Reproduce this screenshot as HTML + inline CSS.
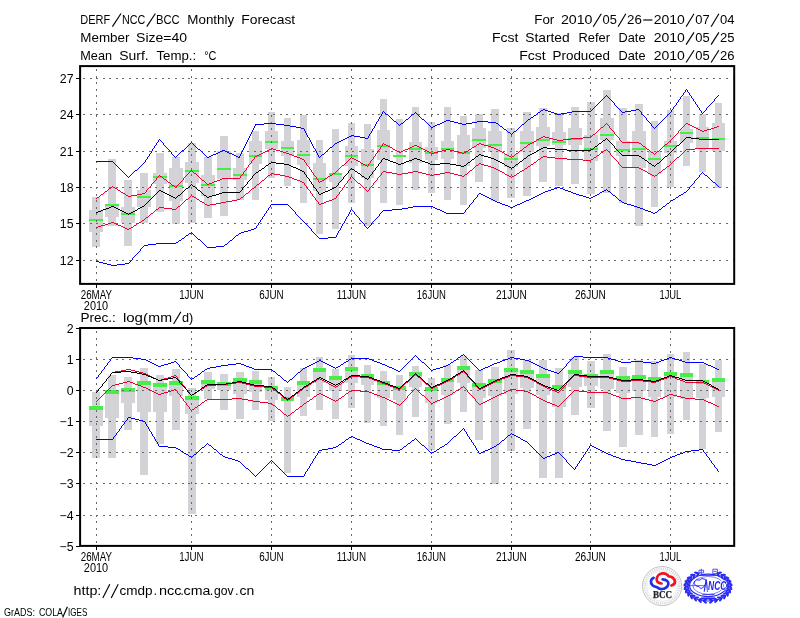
<!DOCTYPE html><html><head><meta charset="utf-8"><title>DERF/NCC/BCC Monthly Forecast</title>
<style>html,body{margin:0;padding:0;background:#fff}svg{display:block;will-change:transform}text{font-family:"Liberation Sans",sans-serif;fill:#000}</style></head><body>
<svg width="800" height="618" viewBox="0 0 800 618">
<rect width="800" height="618" fill="#fff"/>
<g fill="#d3d3d7" shape-rendering="crispEdges">
<rect x="92" y="197.0" width="8" height="49.8"/>
<rect x="89" y="210.0" width="14" height="22.0"/>
<rect x="108" y="159.0" width="8" height="66.5"/>
<rect x="105" y="204.0" width="14" height="13.0"/>
<rect x="124" y="180.2" width="8" height="65.3"/>
<rect x="121" y="207.3" width="14" height="16.1"/>
<rect x="140" y="173.2" width="8" height="50.2"/>
<rect x="137" y="190.2" width="14" height="17.1"/>
<rect x="156" y="153.1" width="8" height="59.2"/>
<rect x="153" y="173.2" width="14" height="10.6"/>
<rect x="172" y="157.1" width="8" height="67.3"/>
<rect x="169" y="168.2" width="14" height="33.1"/>
<rect x="188" y="143.1" width="8" height="79.7"/>
<rect x="185" y="162.1" width="14" height="21.1"/>
<rect x="204" y="157.1" width="8" height="60.7"/>
<rect x="201" y="175.2" width="14" height="21.1"/>
<rect x="220" y="136.0" width="8" height="79.7"/>
<rect x="217" y="151.1" width="14" height="28.1"/>
<rect x="236" y="152.6" width="8" height="47.4"/>
<rect x="233" y="168.3" width="14" height="12.0"/>
<rect x="252" y="131.1" width="7" height="69.2"/>
<rect x="249" y="141.2" width="13" height="23.1"/>
<rect x="268" y="112.4" width="7" height="65.9"/>
<rect x="265" y="131.1" width="13" height="18.1"/>
<rect x="284" y="117.5" width="7" height="68.8"/>
<rect x="281" y="141.2" width="13" height="15.0"/>
<rect x="300" y="115.1" width="7" height="88.2"/>
<rect x="297" y="140.2" width="13" height="25.1"/>
<rect x="316" y="140.2" width="7" height="94.1"/>
<rect x="313" y="163.3" width="13" height="28.1"/>
<rect x="332" y="129.1" width="7" height="99.6"/>
<rect x="329" y="173.3" width="13" height="9.0"/>
<rect x="348" y="123.1" width="7" height="79.4"/>
<rect x="345" y="146.2" width="13" height="20.1"/>
<rect x="364" y="124.1" width="7" height="102.2"/>
<rect x="361" y="149.2" width="13" height="29.1"/>
<rect x="380" y="99.0" width="7" height="104.4"/>
<rect x="377" y="130.1" width="13" height="30.1"/>
<rect x="396" y="119.1" width="7" height="85.4"/>
<rect x="393" y="155.0" width="13" height="2.0"/>
<rect x="412" y="107.1" width="7" height="82.7"/>
<rect x="409" y="142.2" width="13" height="21.1"/>
<rect x="428" y="122.1" width="7" height="70.7"/>
<rect x="425" y="147.2" width="13" height="13.1"/>
<rect x="444" y="107.1" width="7" height="92.9"/>
<rect x="441" y="141.2" width="13" height="18.1"/>
<rect x="460" y="116.1" width="7" height="88.8"/>
<rect x="457" y="135.2" width="13" height="31.1"/>
<rect x="475" y="114.1" width="8" height="67.7"/>
<rect x="472" y="128.2" width="14" height="20.0"/>
<rect x="491" y="109.1" width="8" height="92.3"/>
<rect x="488" y="131.2" width="14" height="21.0"/>
<rect x="507" y="128.2" width="8" height="70.2"/>
<rect x="504" y="154.3" width="14" height="13.0"/>
<rect x="523" y="112.1" width="8" height="83.7"/>
<rect x="520" y="131.2" width="14" height="21.0"/>
<rect x="539" y="108.2" width="8" height="73.9"/>
<rect x="536" y="127.2" width="14" height="18.4"/>
<rect x="555" y="113.0" width="8" height="73.1"/>
<rect x="552" y="132.4" width="14" height="12.7"/>
<rect x="571" y="106.9" width="8" height="77.0"/>
<rect x="568" y="127.5" width="14" height="17.7"/>
<rect x="587" y="101.6" width="8" height="92.4"/>
<rect x="584" y="135.1" width="14" height="25.9"/>
<rect x="603" y="90.3" width="8" height="102.3"/>
<rect x="600" y="118.0" width="14" height="21.9"/>
<rect x="619" y="107.7" width="8" height="95.5"/>
<rect x="616" y="140.7" width="14" height="15.0"/>
<rect x="635" y="104.3" width="8" height="121.3"/>
<rect x="632" y="130.6" width="14" height="37.0"/>
<rect x="651" y="121.4" width="7" height="85.2"/>
<rect x="648" y="151.2" width="13" height="23.0"/>
<rect x="667" y="110.3" width="7" height="76.3"/>
<rect x="664" y="140.7" width="13" height="12.4"/>
<rect x="683" y="95.8" width="7" height="69.9"/>
<rect x="680" y="128.5" width="13" height="14.0"/>
<rect x="699" y="113.5" width="7" height="58.5"/>
<rect x="696" y="127.2" width="13" height="20.8"/>
<rect x="715" y="102.9" width="7" height="85.0"/>
<rect x="712" y="122.7" width="13" height="28.3"/>
</g>
<g fill="#48ee48" shape-rendering="crispEdges">
<rect x="89" y="219" width="14" height="2"/>
<rect x="105" y="204" width="14" height="2"/>
<rect x="121" y="213" width="14" height="2"/>
<rect x="137" y="196" width="14" height="2"/>
<rect x="153" y="176" width="14" height="2"/>
<rect x="169" y="185" width="14" height="2"/>
<rect x="185" y="170" width="14" height="2"/>
<rect x="201" y="184" width="14" height="2"/>
<rect x="217" y="168" width="14" height="2"/>
<rect x="233" y="174" width="14" height="2"/>
<rect x="249" y="155" width="13" height="2"/>
<rect x="265" y="141" width="13" height="2"/>
<rect x="281" y="147" width="13" height="2"/>
<rect x="297" y="154" width="13" height="2"/>
<rect x="313" y="178" width="13" height="2"/>
<rect x="329" y="173" width="13" height="2"/>
<rect x="345" y="155" width="13" height="2"/>
<rect x="361" y="164" width="13" height="2"/>
<rect x="377" y="145" width="13" height="2"/>
<rect x="393" y="155" width="13" height="2"/>
<rect x="409" y="148" width="13" height="2"/>
<rect x="425" y="152" width="13" height="2"/>
<rect x="441" y="148" width="13" height="2"/>
<rect x="457" y="152" width="13" height="2"/>
<rect x="472" y="139" width="14" height="2"/>
<rect x="488" y="144" width="14" height="2"/>
<rect x="504" y="158" width="14" height="2"/>
<rect x="520" y="142" width="14" height="2"/>
<rect x="536" y="139" width="14" height="2"/>
<rect x="552" y="141" width="14" height="2"/>
<rect x="568" y="138" width="14" height="2"/>
<rect x="584" y="148" width="14" height="2"/>
<rect x="600" y="134" width="14" height="2"/>
<rect x="616" y="149" width="14" height="2"/>
<rect x="632" y="148" width="14" height="2"/>
<rect x="648" y="158" width="13" height="2"/>
<rect x="664" y="145" width="13" height="2"/>
<rect x="680" y="132" width="13" height="2"/>
<rect x="696" y="137" width="13" height="2"/>
<rect x="712" y="138" width="13" height="2"/>
</g>
<g stroke="#686868" stroke-width="1" stroke-dasharray="2 4.56" fill="none" shape-rendering="crispEdges">
<line x1="83.1" y1="260.5" x2="734.2" y2="260.5"/>
<line x1="83.1" y1="223.5" x2="734.2" y2="223.5"/>
<line x1="83.1" y1="187.5" x2="734.2" y2="187.5"/>
<line x1="83.1" y1="151.5" x2="734.2" y2="151.5"/>
<line x1="83.1" y1="114.5" x2="734.2" y2="114.5"/>
<line x1="83.1" y1="78.5" x2="734.2" y2="78.5"/>
<line x1="96.5" y1="69.1" x2="96.5" y2="283.9"/>
<line x1="191.5" y1="69.1" x2="191.5" y2="283.9"/>
<line x1="271.5" y1="69.1" x2="271.5" y2="283.9"/>
<line x1="351.5" y1="69.1" x2="351.5" y2="283.9"/>
<line x1="431.5" y1="69.1" x2="431.5" y2="283.9"/>
<line x1="511.5" y1="69.1" x2="511.5" y2="283.9"/>
<line x1="590.5" y1="69.1" x2="590.5" y2="283.9"/>
<line x1="670.5" y1="69.1" x2="670.5" y2="283.9"/>
</g>
<path d="M686 89.5h1M685 90.5h1M687 90.5h1M685 91.5h1M687 91.5h1M684 92.5h1M688 92.5h1M683 93.5h1M689 93.5h1M683 94.5h1M689 94.5h1M606 95.5h1M682 95.5h1M690 95.5h1M718 95.5h1M605 96.5h1M607 96.5h1M681 96.5h1M691 96.5h1M717 96.5h1M604 97.5h1M608 97.5h1M680 97.5h1M691 97.5h1M716 97.5h1M603 98.5h1M609 98.5h1M680 98.5h1M692 98.5h1M715 98.5h1M602 99.5h1M610 99.5h1M679 99.5h1M693 99.5h1M714 99.5h1M601 100.5h1M611 100.5h1M678 100.5h1M693 100.5h1M714 100.5h1M600 101.5h1M612 101.5h1M678 101.5h1M694 101.5h1M713 101.5h1M599 102.5h1M613 102.5h1M677 102.5h1M695 102.5h1M712 102.5h1M598 103.5h1M614 103.5h1M676 103.5h1M695 103.5h1M711 103.5h1M597 104.5h1M614 104.5h1M676 104.5h1M696 104.5h1M710 104.5h1M596 105.5h1M615 105.5h1M675 105.5h1M697 105.5h1M709 105.5h1M595 106.5h1M616 106.5h1M674 106.5h1M697 106.5h1M708 106.5h1M594 107.5h1M617 107.5h1M673 107.5h1M698 107.5h1M707 107.5h1M593 108.5h1M618 108.5h1M673 108.5h1M699 108.5h1M706 108.5h1M543 109.5h2M592 109.5h1M619 109.5h1M636 109.5h3M672 109.5h1M699 109.5h1M706 109.5h1M541 110.5h2M545 110.5h3M591 110.5h1M620 110.5h1M631 110.5h5M639 110.5h1M671 110.5h1M700 110.5h1M705 110.5h1M383 111.5h1M540 111.5h1M548 111.5h3M572 111.5h19M621 111.5h1M625 111.5h6M640 111.5h1M671 111.5h1M701 111.5h1M704 111.5h1M382 112.5h1M384 112.5h1M415 112.5h1M538 112.5h2M551 112.5h3M567 112.5h5M622 112.5h3M641 112.5h1M670 112.5h1M701 112.5h1M703 112.5h1M382 113.5h1M385 113.5h1M414 113.5h1M416 113.5h1M537 113.5h1M554 113.5h3M561 113.5h6M641 113.5h1M669 113.5h1M702 113.5h1M381 114.5h1M386 114.5h2M412 114.5h2M417 114.5h1M536 114.5h1M557 114.5h4M642 114.5h1M668 114.5h1M381 115.5h1M388 115.5h1M411 115.5h1M418 115.5h1M534 115.5h2M643 115.5h1M667 115.5h1M380 116.5h1M389 116.5h1M410 116.5h1M419 116.5h1M533 116.5h1M644 116.5h1M666 116.5h1M379 117.5h1M390 117.5h1M409 117.5h1M420 117.5h1M531 117.5h2M645 117.5h1M665 117.5h1M379 118.5h1M391 118.5h1M408 118.5h1M421 118.5h1M530 118.5h1M646 118.5h1M664 118.5h1M378 119.5h1M392 119.5h1M406 119.5h2M422 119.5h2M528 119.5h2M646 119.5h1M663 119.5h1M378 120.5h1M393 120.5h1M405 120.5h1M424 120.5h1M446 120.5h4M527 120.5h1M647 120.5h1M662 120.5h1M377 121.5h1M394 121.5h2M404 121.5h1M425 121.5h1M444 121.5h2M450 121.5h4M477 121.5h11M526 121.5h1M648 121.5h1M661 121.5h1M376 122.5h1M396 122.5h1M403 122.5h1M426 122.5h1M442 122.5h2M454 122.5h4M472 122.5h5M488 122.5h8M525 122.5h1M649 122.5h1M660 122.5h1M264 123.5h12M376 123.5h1M397 123.5h1M401 123.5h2M427 123.5h1M440 123.5h2M458 123.5h4M466 123.5h6M496 123.5h2M524 123.5h1M650 123.5h1M659 123.5h1M255 124.5h9M276 124.5h8M375 124.5h1M398 124.5h1M400 124.5h1M428 124.5h1M437 124.5h3M462 124.5h4M498 124.5h1M522 124.5h2M651 124.5h1M658 124.5h1M255 125.5h1M284 125.5h6M375 125.5h1M399 125.5h1M429 125.5h1M435 125.5h2M499 125.5h1M521 125.5h1M651 125.5h1M657 125.5h1M254 126.5h1M290 126.5h6M374 126.5h1M430 126.5h1M433 126.5h2M500 126.5h2M520 126.5h1M652 126.5h1M656 126.5h1M254 127.5h1M296 127.5h5M374 127.5h1M431 127.5h2M502 127.5h1M519 127.5h1M653 127.5h1M655 127.5h1M253 128.5h1M301 128.5h3M373 128.5h1M503 128.5h1M518 128.5h1M654 128.5h1M253 129.5h1M304 129.5h1M372 129.5h1M504 129.5h2M517 129.5h1M252 130.5h1M304 130.5h1M372 130.5h1M506 130.5h1M516 130.5h1M252 131.5h1M305 131.5h1M371 131.5h1M507 131.5h1M514 131.5h2M251 132.5h1M305 132.5h1M371 132.5h1M508 132.5h2M513 132.5h1M251 133.5h1M306 133.5h1M370 133.5h1M510 133.5h1M512 133.5h1M250 134.5h1M306 134.5h1M369 134.5h1M511 134.5h1M250 135.5h1M307 135.5h1M351 135.5h3M369 135.5h1M249 136.5h1M307 136.5h1M349 136.5h2M354 136.5h6M368 136.5h1M249 137.5h1M308 137.5h1M347 137.5h2M360 137.5h5M368 137.5h1M248 138.5h1M309 138.5h1M345 138.5h2M365 138.5h3M159 139.5h1M248 139.5h1M309 139.5h1M343 139.5h2M158 140.5h1M160 140.5h1M247 140.5h1M310 140.5h1M341 140.5h2M158 141.5h1M161 141.5h1M247 141.5h1M310 141.5h1M339 141.5h2M157 142.5h1M162 142.5h1M191 142.5h1M246 142.5h1M311 142.5h1M337 142.5h2M156 143.5h1M163 143.5h1M190 143.5h1M192 143.5h1M246 143.5h1M311 143.5h1M335 143.5h2M156 144.5h1M163 144.5h1M189 144.5h1M193 144.5h1M245 144.5h1M312 144.5h1M334 144.5h1M155 145.5h1M164 145.5h1M188 145.5h1M194 145.5h1M245 145.5h1M312 145.5h1M333 145.5h1M154 146.5h1M165 146.5h1M187 146.5h1M195 146.5h1M244 146.5h1M313 146.5h1M332 146.5h1M154 147.5h1M166 147.5h1M186 147.5h1M196 147.5h1M244 147.5h1M313 147.5h1M330 147.5h2M153 148.5h1M167 148.5h1M185 148.5h1M197 148.5h1M243 148.5h1M314 148.5h1M329 148.5h1M152 149.5h1M168 149.5h1M184 149.5h1M198 149.5h2M243 149.5h1M315 149.5h1M328 149.5h1M152 150.5h1M169 150.5h1M182 150.5h2M200 150.5h1M222 150.5h3M242 150.5h1M315 150.5h1M327 150.5h1M151 151.5h1M170 151.5h1M181 151.5h1M201 151.5h1M220 151.5h2M225 151.5h2M242 151.5h1M316 151.5h1M326 151.5h1M151 152.5h1M171 152.5h1M180 152.5h1M202 152.5h1M218 152.5h2M227 152.5h2M241 152.5h1M316 152.5h1M325 152.5h1M150 153.5h1M171 153.5h1M179 153.5h1M203 153.5h1M216 153.5h2M229 153.5h3M241 153.5h1M317 153.5h1M324 153.5h1M149 154.5h1M172 154.5h1M178 154.5h1M204 154.5h1M213 154.5h3M232 154.5h2M240 154.5h1M317 154.5h1M322 154.5h2M149 155.5h1M173 155.5h1M177 155.5h1M205 155.5h1M211 155.5h2M234 155.5h2M240 155.5h1M318 155.5h1M321 155.5h1M148 156.5h1M174 156.5h1M176 156.5h1M206 156.5h1M209 156.5h2M236 156.5h2M239 156.5h1M318 156.5h1M320 156.5h1M147 157.5h1M175 157.5h1M207 157.5h2M238 157.5h2M319 157.5h1M147 158.5h1M146 159.5h1M145 160.5h1M96 161.5h17M145 161.5h1M113 162.5h1M144 162.5h1M114 163.5h1M143 163.5h1M115 164.5h1M142 164.5h1M116 165.5h1M141 165.5h1M117 166.5h1M140 166.5h1M118 167.5h1M139 167.5h1M119 168.5h1M138 168.5h1M120 169.5h1M137 169.5h1M121 170.5h1M135 170.5h2M122 171.5h1M134 171.5h1M123 172.5h1M133 172.5h1M124 173.5h1M132 173.5h1M125 174.5h1M131 174.5h1M126 175.5h1M130 175.5h1M127 176.5h1M129 176.5h1M128 177.5h1" fill="none" stroke="#0000ff" stroke-width="1" shape-rendering="crispEdges"/>
<path d="M702 172.5h1M701 173.5h1M703 173.5h1M700 174.5h1M704 174.5h1M699 175.5h1M705 175.5h2M699 176.5h1M707 176.5h1M698 177.5h1M708 177.5h1M697 178.5h1M709 178.5h1M696 179.5h1M710 179.5h1M695 180.5h1M711 180.5h1M694 181.5h1M712 181.5h1M694 182.5h1M713 182.5h2M693 183.5h1M715 183.5h1M692 184.5h1M716 184.5h1M691 185.5h1M717 185.5h1M690 186.5h1M718 186.5h1M557 187.5h3M689 187.5h1M554 188.5h3M560 188.5h3M689 188.5h1M551 189.5h3M563 189.5h2M606 189.5h1M688 189.5h1M548 190.5h3M565 190.5h3M604 190.5h2M607 190.5h1M687 190.5h1M545 191.5h3M568 191.5h3M602 191.5h2M608 191.5h2M686 191.5h1M543 192.5h2M571 192.5h2M600 192.5h2M610 192.5h1M684 192.5h2M479 193.5h2M541 193.5h2M573 193.5h3M599 193.5h1M611 193.5h1M683 193.5h1M478 194.5h1M481 194.5h2M539 194.5h2M576 194.5h3M597 194.5h2M612 194.5h1M681 194.5h2M477 195.5h1M483 195.5h2M537 195.5h2M579 195.5h4M595 195.5h2M613 195.5h2M679 195.5h2M477 196.5h1M485 196.5h2M535 196.5h2M583 196.5h3M593 196.5h2M615 196.5h1M678 196.5h1M476 197.5h1M487 197.5h2M533 197.5h2M586 197.5h3M591 197.5h2M616 197.5h1M676 197.5h2M475 198.5h1M489 198.5h2M531 198.5h2M589 198.5h2M617 198.5h1M675 198.5h1M474 199.5h1M491 199.5h2M529 199.5h2M618 199.5h1M673 199.5h2M473 200.5h1M493 200.5h2M526 200.5h3M619 200.5h2M671 200.5h2M473 201.5h1M495 201.5h2M524 201.5h2M621 201.5h1M670 201.5h1M472 202.5h1M497 202.5h3M522 202.5h2M622 202.5h2M669 202.5h1M471 203.5h1M500 203.5h2M520 203.5h2M624 203.5h3M667 203.5h2M271 204.5h17M470 204.5h1M502 204.5h3M517 204.5h3M627 204.5h4M666 204.5h1M270 205.5h1M288 205.5h1M469 205.5h1M505 205.5h3M515 205.5h2M631 205.5h3M665 205.5h1M270 206.5h1M289 206.5h1M413 206.5h20M469 206.5h1M508 206.5h2M513 206.5h2M634 206.5h3M663 206.5h2M269 207.5h1M290 207.5h1M408 207.5h5M433 207.5h2M468 207.5h1M510 207.5h3M637 207.5h3M662 207.5h1M268 208.5h1M291 208.5h1M402 208.5h6M435 208.5h2M467 208.5h1M640 208.5h3M661 208.5h1M268 209.5h1M292 209.5h1M351 209.5h1M392 209.5h10M437 209.5h3M466 209.5h1M643 209.5h2M659 209.5h2M267 210.5h1M293 210.5h1M350 210.5h1M352 210.5h1M383 210.5h9M440 210.5h2M465 210.5h1M645 210.5h3M658 210.5h1M266 211.5h1M294 211.5h1M350 211.5h1M353 211.5h1M382 211.5h1M442 211.5h2M465 211.5h1M648 211.5h3M657 211.5h1M266 212.5h1M295 212.5h1M349 212.5h1M354 212.5h1M381 212.5h1M444 212.5h2M464 212.5h1M651 212.5h2M655 212.5h2M265 213.5h1M295 213.5h1M349 213.5h1M354 213.5h1M380 213.5h1M446 213.5h18M653 213.5h2M264 214.5h1M296 214.5h1M348 214.5h1M355 214.5h1M379 214.5h1M264 215.5h1M297 215.5h1M348 215.5h1M356 215.5h1M379 215.5h1M263 216.5h1M298 216.5h1M347 216.5h1M357 216.5h1M378 216.5h1M262 217.5h1M299 217.5h1M346 217.5h1M358 217.5h1M377 217.5h1M262 218.5h1M300 218.5h1M346 218.5h1M359 218.5h1M376 218.5h1M261 219.5h1M301 219.5h1M345 219.5h1M359 219.5h1M375 219.5h1M260 220.5h1M302 220.5h1M345 220.5h1M360 220.5h1M374 220.5h1M260 221.5h1M303 221.5h1M344 221.5h1M361 221.5h1M373 221.5h1M259 222.5h1M304 222.5h1M344 222.5h1M362 222.5h1M372 222.5h1M258 223.5h1M305 223.5h1M343 223.5h1M363 223.5h1M371 223.5h1M258 224.5h1M306 224.5h1M342 224.5h1M364 224.5h1M371 224.5h1M257 225.5h1M307 225.5h1M342 225.5h1M364 225.5h1M370 225.5h1M256 226.5h1M308 226.5h1M341 226.5h1M365 226.5h1M369 226.5h1M256 227.5h1M309 227.5h1M341 227.5h1M366 227.5h1M368 227.5h1M254 228.5h2M310 228.5h1M340 228.5h1M367 228.5h1M251 229.5h3M311 229.5h1M340 229.5h1M248 230.5h3M311 230.5h1M339 230.5h1M244 231.5h4M312 231.5h1M338 231.5h1M191 232.5h1M241 232.5h3M313 232.5h1M338 232.5h1M189 233.5h2M192 233.5h1M239 233.5h2M314 233.5h1M337 233.5h1M188 234.5h1M193 234.5h1M238 234.5h1M315 234.5h1M337 234.5h1M186 235.5h2M194 235.5h1M236 235.5h2M316 235.5h1M336 235.5h1M185 236.5h1M195 236.5h1M235 236.5h1M317 236.5h1M336 236.5h1M184 237.5h1M196 237.5h1M234 237.5h1M318 237.5h1M328 237.5h8M182 238.5h2M197 238.5h1M233 238.5h1M319 238.5h9M181 239.5h1M198 239.5h2M232 239.5h1M179 240.5h2M200 240.5h1M230 240.5h2M178 241.5h1M201 241.5h1M229 241.5h1M176 242.5h2M202 242.5h1M228 242.5h1M156 243.5h20M203 243.5h1M227 243.5h1M148 244.5h8M204 244.5h1M225 244.5h2M144 245.5h4M205 245.5h1M224 245.5h1M143 246.5h1M206 246.5h1M216 246.5h8M142 247.5h1M207 247.5h9M141 248.5h1M140 249.5h1M140 250.5h1M139 251.5h1M138 252.5h1M137 253.5h1M136 254.5h1M135 255.5h1M134 256.5h1M133 257.5h1M132 258.5h1M132 259.5h1M131 260.5h1M96 261.5h3M130 261.5h1M99 262.5h4M129 262.5h1M103 263.5h4M125 263.5h4M107 264.5h4M117 264.5h8M111 265.5h6" fill="none" stroke="#0000ff" stroke-width="1" shape-rendering="crispEdges"/>
<path d="M606 123.5h1M686 123.5h2M605 124.5h1M607 124.5h1M685 124.5h1M688 124.5h2M604 125.5h1M608 125.5h1M684 125.5h1M690 125.5h2M603 126.5h1M609 126.5h1M683 126.5h1M692 126.5h2M717 126.5h2M601 127.5h2M609 127.5h1M682 127.5h1M694 127.5h2M714 127.5h3M600 128.5h1M610 128.5h1M681 128.5h1M696 128.5h2M711 128.5h3M599 129.5h1M611 129.5h1M680 129.5h1M698 129.5h2M707 129.5h4M598 130.5h1M612 130.5h1M679 130.5h1M700 130.5h2M704 130.5h3M597 131.5h1M613 131.5h1M678 131.5h1M702 131.5h2M596 132.5h1M614 132.5h1M678 132.5h1M595 133.5h1M614 133.5h1M677 133.5h1M593 134.5h2M615 134.5h1M676 134.5h1M592 135.5h1M616 135.5h1M675 135.5h1M543 136.5h2M591 136.5h1M617 136.5h1M674 136.5h1M541 137.5h2M545 137.5h4M583 137.5h8M618 137.5h1M673 137.5h1M539 138.5h2M549 138.5h4M571 138.5h12M619 138.5h1M672 138.5h1M537 139.5h2M553 139.5h4M563 139.5h8M619 139.5h1M671 139.5h1M536 140.5h1M557 140.5h6M620 140.5h1M670 140.5h1M534 141.5h2M621 141.5h1M669 141.5h1M532 142.5h2M622 142.5h17M668 142.5h1M383 143.5h1M479 143.5h2M530 143.5h2M639 143.5h2M667 143.5h1M382 144.5h1M384 144.5h2M477 144.5h2M481 144.5h3M528 144.5h2M641 144.5h1M665 144.5h2M382 145.5h1M386 145.5h2M414 145.5h3M476 145.5h1M484 145.5h4M527 145.5h1M642 145.5h1M664 145.5h1M381 146.5h1M388 146.5h2M412 146.5h2M417 146.5h2M474 146.5h2M488 146.5h3M526 146.5h1M643 146.5h2M663 146.5h1M380 147.5h1M390 147.5h2M410 147.5h2M419 147.5h2M472 147.5h2M491 147.5h3M524 147.5h2M645 147.5h1M662 147.5h1M271 148.5h2M380 148.5h1M392 148.5h1M408 148.5h2M421 148.5h2M471 148.5h1M494 148.5h2M523 148.5h1M646 148.5h1M661 148.5h1M269 149.5h2M273 149.5h3M379 149.5h1M393 149.5h2M405 149.5h3M423 149.5h2M446 149.5h4M469 149.5h2M496 149.5h2M522 149.5h1M647 149.5h2M660 149.5h1M267 150.5h2M276 150.5h4M378 150.5h1M395 150.5h2M403 150.5h2M425 150.5h2M442 150.5h4M450 150.5h4M468 150.5h1M498 150.5h2M520 150.5h2M649 150.5h1M659 150.5h1M265 151.5h2M280 151.5h3M377 151.5h1M397 151.5h2M401 151.5h2M427 151.5h2M438 151.5h4M454 151.5h4M466 151.5h2M500 151.5h2M519 151.5h1M650 151.5h1M657 151.5h2M263 152.5h2M283 152.5h3M377 152.5h1M399 152.5h2M429 152.5h2M434 152.5h4M458 152.5h4M464 152.5h2M502 152.5h2M518 152.5h1M651 152.5h2M656 152.5h1M261 153.5h2M286 153.5h3M376 153.5h1M431 153.5h3M462 153.5h2M504 153.5h1M516 153.5h2M653 153.5h1M655 153.5h1M259 154.5h2M289 154.5h3M375 154.5h1M505 154.5h2M515 154.5h1M654 154.5h1M257 155.5h2M292 155.5h2M375 155.5h1M507 155.5h2M514 155.5h1M255 156.5h2M294 156.5h3M374 156.5h1M509 156.5h2M512 156.5h2M254 157.5h1M297 157.5h3M351 157.5h1M373 157.5h1M511 157.5h1M254 158.5h1M300 158.5h2M350 158.5h1M352 158.5h2M373 158.5h1M253 159.5h1M302 159.5h2M349 159.5h1M354 159.5h2M372 159.5h1M252 160.5h1M304 160.5h1M348 160.5h1M356 160.5h2M371 160.5h1M251 161.5h1M304 161.5h1M347 161.5h1M358 161.5h2M370 161.5h1M251 162.5h1M305 162.5h1M346 162.5h1M360 162.5h1M370 162.5h1M250 163.5h1M306 163.5h1M345 163.5h1M361 163.5h2M369 163.5h1M249 164.5h1M306 164.5h1M344 164.5h1M363 164.5h2M368 164.5h1M248 165.5h1M307 165.5h1M342 165.5h2M365 165.5h2M368 165.5h1M248 166.5h1M308 166.5h1M341 166.5h1M367 166.5h1M247 167.5h1M309 167.5h1M340 167.5h1M246 168.5h1M309 168.5h1M339 168.5h1M246 169.5h1M310 169.5h1M338 169.5h1M191 170.5h1M245 170.5h1M311 170.5h1M337 170.5h1M190 171.5h1M192 171.5h1M244 171.5h1M311 171.5h1M336 171.5h1M189 172.5h1M193 172.5h1M243 172.5h1M312 172.5h1M335 172.5h1M188 173.5h1M194 173.5h2M243 173.5h1M313 173.5h1M333 173.5h2M187 174.5h1M196 174.5h1M242 174.5h1M313 174.5h1M332 174.5h1M159 175.5h1M186 175.5h1M197 175.5h1M241 175.5h1M314 175.5h1M330 175.5h2M158 176.5h1M160 176.5h2M185 176.5h1M198 176.5h1M240 176.5h1M315 176.5h1M328 176.5h2M157 177.5h1M162 177.5h1M184 177.5h1M199 177.5h1M240 177.5h1M316 177.5h1M327 177.5h1M156 178.5h1M163 178.5h1M183 178.5h1M200 178.5h1M222 178.5h18M316 178.5h1M325 178.5h2M156 179.5h1M164 179.5h2M183 179.5h1M201 179.5h1M220 179.5h2M317 179.5h1M324 179.5h1M155 180.5h1M166 180.5h1M182 180.5h1M202 180.5h2M217 180.5h3M318 180.5h1M322 180.5h2M154 181.5h1M167 181.5h1M181 181.5h1M204 181.5h1M214 181.5h3M318 181.5h1M320 181.5h2M153 182.5h1M168 182.5h2M180 182.5h1M205 182.5h1M212 182.5h2M319 182.5h1M152 183.5h1M170 183.5h1M179 183.5h1M206 183.5h1M209 183.5h3M151 184.5h1M171 184.5h1M178 184.5h1M207 184.5h2M151 185.5h1M172 185.5h2M177 185.5h1M112 186.5h1M150 186.5h1M174 186.5h1M176 186.5h1M111 187.5h1M113 187.5h2M149 187.5h1M175 187.5h1M109 188.5h2M115 188.5h2M148 188.5h1M108 189.5h1M117 189.5h1M147 189.5h1M107 190.5h1M118 190.5h2M146 190.5h1M105 191.5h2M120 191.5h1M146 191.5h1M104 192.5h1M121 192.5h2M145 192.5h1M103 193.5h1M123 193.5h2M142 193.5h3M101 194.5h2M125 194.5h1M137 194.5h5M100 195.5h1M126 195.5h2M131 195.5h6M99 196.5h1M128 196.5h3M97 197.5h2M96 198.5h1" fill="none" stroke="#f00030" stroke-width="1" shape-rendering="crispEdges"/>
<path d="M695 148.5h24M606 149.5h1M686 149.5h9M604 150.5h2M607 150.5h1M685 150.5h1M603 151.5h1M608 151.5h1M684 151.5h1M601 152.5h2M609 152.5h1M683 152.5h1M600 153.5h1M610 153.5h1M682 153.5h1M599 154.5h1M610 154.5h1M681 154.5h1M597 155.5h2M611 155.5h1M680 155.5h1M543 156.5h4M596 156.5h1M612 156.5h1M679 156.5h1M541 157.5h2M547 157.5h8M594 157.5h2M613 157.5h1M677 157.5h2M540 158.5h1M555 158.5h12M593 158.5h1M614 158.5h1M676 158.5h1M538 159.5h2M567 159.5h16M591 159.5h2M615 159.5h1M675 159.5h1M537 160.5h1M583 160.5h8M616 160.5h1M674 160.5h1M536 161.5h1M617 161.5h1M673 161.5h1M534 162.5h2M618 162.5h1M672 162.5h1M479 163.5h2M533 163.5h1M618 163.5h1M671 163.5h1M478 164.5h1M481 164.5h3M531 164.5h2M619 164.5h1M670 164.5h1M476 165.5h2M484 165.5h4M530 165.5h1M620 165.5h1M669 165.5h1M475 166.5h1M488 166.5h3M528 166.5h2M621 166.5h1M667 166.5h2M474 167.5h1M491 167.5h3M527 167.5h1M622 167.5h17M666 167.5h1M473 168.5h1M494 168.5h2M525 168.5h2M639 168.5h2M665 168.5h1M472 169.5h1M496 169.5h2M524 169.5h1M641 169.5h2M663 169.5h2M470 170.5h2M498 170.5h2M522 170.5h2M643 170.5h2M662 170.5h1M383 171.5h3M413 171.5h5M469 171.5h1M500 171.5h2M520 171.5h2M645 171.5h2M661 171.5h1M382 172.5h1M386 172.5h6M408 172.5h5M418 172.5h4M445 172.5h5M468 172.5h1M502 172.5h2M519 172.5h1M647 172.5h1M659 172.5h2M271 173.5h3M381 173.5h1M392 173.5h5M402 173.5h6M422 173.5h4M440 173.5h5M450 173.5h4M467 173.5h1M504 173.5h1M517 173.5h2M648 173.5h2M658 173.5h1M270 174.5h1M274 174.5h6M381 174.5h1M397 174.5h5M426 174.5h4M434 174.5h6M454 174.5h4M465 174.5h2M505 174.5h2M516 174.5h1M650 174.5h2M657 174.5h1M268 175.5h2M280 175.5h5M380 175.5h1M430 175.5h4M458 175.5h4M464 175.5h1M507 175.5h2M514 175.5h2M652 175.5h2M655 175.5h2M267 176.5h1M285 176.5h4M351 176.5h1M379 176.5h1M462 176.5h2M509 176.5h2M512 176.5h2M654 176.5h1M266 177.5h1M289 177.5h3M350 177.5h1M352 177.5h1M378 177.5h1M511 177.5h1M265 178.5h1M292 178.5h2M350 178.5h1M353 178.5h1M377 178.5h1M264 179.5h1M294 179.5h3M349 179.5h1M354 179.5h1M377 179.5h1M262 180.5h2M297 180.5h3M348 180.5h1M355 180.5h1M376 180.5h1M261 181.5h1M300 181.5h2M347 181.5h1M356 181.5h1M375 181.5h1M260 182.5h1M302 182.5h2M347 182.5h1M357 182.5h1M374 182.5h1M259 183.5h1M304 183.5h1M346 183.5h1M358 183.5h2M373 183.5h1M257 184.5h2M304 184.5h1M345 184.5h1M360 184.5h1M373 184.5h1M256 185.5h1M305 185.5h1M344 185.5h1M361 185.5h1M372 185.5h1M255 186.5h1M306 186.5h1M344 186.5h1M362 186.5h1M371 186.5h1M254 187.5h1M307 187.5h1M343 187.5h1M363 187.5h1M370 187.5h1M252 188.5h2M307 188.5h1M342 188.5h1M364 188.5h1M369 188.5h1M251 189.5h1M308 189.5h1M342 189.5h1M365 189.5h1M369 189.5h1M250 190.5h1M309 190.5h1M341 190.5h1M366 190.5h1M368 190.5h1M249 191.5h1M310 191.5h1M340 191.5h1M367 191.5h1M248 192.5h1M310 192.5h1M339 192.5h1M246 193.5h2M311 193.5h1M339 193.5h1M245 194.5h1M312 194.5h1M338 194.5h1M191 195.5h1M244 195.5h1M312 195.5h1M337 195.5h1M190 196.5h1M192 196.5h2M243 196.5h1M313 196.5h1M336 196.5h1M189 197.5h1M194 197.5h2M241 197.5h2M314 197.5h1M336 197.5h1M188 198.5h1M196 198.5h1M240 198.5h1M315 198.5h1M334 198.5h2M186 199.5h2M197 199.5h2M237 199.5h3M315 199.5h1M332 199.5h2M185 200.5h1M199 200.5h1M232 200.5h5M316 200.5h1M329 200.5h3M184 201.5h1M200 201.5h2M226 201.5h6M317 201.5h1M326 201.5h3M183 202.5h1M202 202.5h2M221 202.5h5M318 202.5h1M324 202.5h2M182 203.5h1M204 203.5h1M216 203.5h5M318 203.5h1M321 203.5h3M181 204.5h1M205 204.5h2M210 204.5h6M319 204.5h2M180 205.5h1M207 205.5h3M178 206.5h2M159 207.5h5M177 207.5h1M158 208.5h1M164 208.5h8M176 208.5h1M156 209.5h2M172 209.5h4M155 210.5h1M154 211.5h1M153 212.5h1M151 213.5h2M150 214.5h1M149 215.5h1M148 216.5h1M146 217.5h2M145 218.5h1M144 219.5h1M142 220.5h2M141 221.5h1M111 222.5h3M139 222.5h2M108 223.5h3M114 223.5h2M137 223.5h2M105 224.5h3M116 224.5h2M136 224.5h1M101 225.5h4M118 225.5h3M134 225.5h2M98 226.5h3M121 226.5h2M133 226.5h1M96 227.5h2M123 227.5h2M131 227.5h2M125 228.5h2M129 228.5h2M127 229.5h2" fill="none" stroke="#f00030" stroke-width="1" shape-rendering="crispEdges"/>
<path d="M686 137.5h5M606 138.5h1M685 138.5h1M691 138.5h8M605 139.5h1M607 139.5h1M684 139.5h1M699 139.5h20M603 140.5h2M608 140.5h1M683 140.5h1M602 141.5h1M609 141.5h1M682 141.5h1M601 142.5h1M610 142.5h1M681 142.5h1M599 143.5h2M611 143.5h1M680 143.5h1M598 144.5h1M612 144.5h1M679 144.5h1M597 145.5h1M613 145.5h1M677 145.5h2M595 146.5h2M614 146.5h1M676 146.5h1M543 147.5h4M594 147.5h1M614 147.5h1M675 147.5h1M541 148.5h2M547 148.5h8M593 148.5h1M615 148.5h1M674 148.5h1M539 149.5h2M555 149.5h12M591 149.5h2M616 149.5h1M673 149.5h1M537 150.5h2M567 150.5h24M617 150.5h1M672 150.5h1M536 151.5h1M618 151.5h1M671 151.5h1M534 152.5h2M619 152.5h1M670 152.5h1M532 153.5h2M620 153.5h1M669 153.5h1M479 154.5h2M530 154.5h2M621 154.5h1M668 154.5h1M478 155.5h1M481 155.5h3M528 155.5h2M622 155.5h17M667 155.5h1M476 156.5h2M484 156.5h4M527 156.5h1M639 156.5h2M665 156.5h2M475 157.5h1M488 157.5h3M526 157.5h1M641 157.5h1M664 157.5h1M383 158.5h2M414 158.5h3M474 158.5h1M491 158.5h3M524 158.5h2M642 158.5h2M663 158.5h1M382 159.5h1M385 159.5h3M412 159.5h2M417 159.5h3M472 159.5h2M494 159.5h2M523 159.5h1M644 159.5h1M662 159.5h1M381 160.5h1M388 160.5h2M409 160.5h3M420 160.5h2M471 160.5h1M496 160.5h2M522 160.5h1M645 160.5h2M661 160.5h1M381 161.5h1M390 161.5h3M406 161.5h3M422 161.5h3M470 161.5h1M498 161.5h2M520 161.5h2M647 161.5h1M660 161.5h1M271 162.5h5M380 162.5h1M393 162.5h3M404 162.5h2M425 162.5h3M468 162.5h2M500 162.5h2M519 162.5h1M648 162.5h1M659 162.5h1M269 163.5h2M276 163.5h8M379 163.5h1M396 163.5h2M401 163.5h3M428 163.5h2M440 163.5h10M467 163.5h1M502 163.5h2M518 163.5h1M649 163.5h2M657 163.5h2M268 164.5h1M284 164.5h5M378 164.5h1M398 164.5h3M430 164.5h10M450 164.5h6M466 164.5h1M504 164.5h1M516 164.5h2M651 164.5h1M656 164.5h1M266 165.5h2M289 165.5h2M378 165.5h1M456 165.5h5M464 165.5h2M505 165.5h2M515 165.5h1M652 165.5h2M655 165.5h1M265 166.5h1M291 166.5h2M377 166.5h1M461 166.5h3M507 166.5h2M514 166.5h1M654 166.5h1M264 167.5h1M293 167.5h3M376 167.5h1M509 167.5h2M512 167.5h2M262 168.5h2M296 168.5h2M351 168.5h1M375 168.5h1M511 168.5h1M261 169.5h1M298 169.5h2M350 169.5h1M352 169.5h2M375 169.5h1M259 170.5h2M300 170.5h2M349 170.5h1M354 170.5h1M374 170.5h1M258 171.5h1M302 171.5h2M348 171.5h1M355 171.5h2M373 171.5h1M256 172.5h2M304 172.5h1M348 172.5h1M357 172.5h1M372 172.5h1M255 173.5h1M304 173.5h1M347 173.5h1M358 173.5h2M372 173.5h1M254 174.5h1M305 174.5h1M346 174.5h1M360 174.5h1M371 174.5h1M253 175.5h1M306 175.5h1M345 175.5h1M361 175.5h1M370 175.5h1M252 176.5h1M306 176.5h1M344 176.5h1M362 176.5h2M369 176.5h1M252 177.5h1M307 177.5h1M343 177.5h1M364 177.5h1M369 177.5h1M251 178.5h1M308 178.5h1M343 178.5h1M365 178.5h2M368 178.5h1M250 179.5h1M309 179.5h1M342 179.5h1M367 179.5h1M249 180.5h1M309 180.5h1M341 180.5h1M248 181.5h1M310 181.5h1M340 181.5h1M247 182.5h1M311 182.5h1M339 182.5h1M247 183.5h1M311 183.5h1M338 183.5h1M191 184.5h1M246 184.5h1M312 184.5h1M338 184.5h1M190 185.5h1M192 185.5h1M245 185.5h1M313 185.5h1M337 185.5h1M189 186.5h1M193 186.5h2M244 186.5h1M313 186.5h1M336 186.5h1M188 187.5h1M195 187.5h1M243 187.5h1M314 187.5h1M334 187.5h2M186 188.5h2M196 188.5h1M242 188.5h1M315 188.5h1M332 188.5h2M185 189.5h1M197 189.5h1M242 189.5h1M316 189.5h1M330 189.5h2M159 190.5h2M184 190.5h1M198 190.5h2M241 190.5h1M316 190.5h1M328 190.5h2M158 191.5h1M161 191.5h2M183 191.5h1M200 191.5h1M240 191.5h1M317 191.5h1M325 191.5h3M157 192.5h1M163 192.5h2M182 192.5h1M201 192.5h1M222 192.5h18M318 192.5h1M323 192.5h2M156 193.5h1M165 193.5h2M181 193.5h1M202 193.5h1M219 193.5h3M318 193.5h1M321 193.5h2M155 194.5h1M167 194.5h2M180 194.5h1M203 194.5h1M216 194.5h3M319 194.5h2M154 195.5h1M169 195.5h2M178 195.5h2M204 195.5h2M212 195.5h4M153 196.5h1M171 196.5h2M177 196.5h1M206 196.5h1M209 196.5h3M152 197.5h1M173 197.5h2M176 197.5h1M207 197.5h2M151 198.5h1M175 198.5h1M150 199.5h1M149 200.5h1M148 201.5h1M147 202.5h1M146 203.5h1M145 204.5h1M144 205.5h1M111 206.5h3M142 206.5h2M109 207.5h2M114 207.5h2M140 207.5h2M106 208.5h3M116 208.5h2M138 208.5h2M103 209.5h3M118 209.5h2M137 209.5h1M101 210.5h2M120 210.5h2M135 210.5h2M98 211.5h3M122 211.5h2M133 211.5h2M96 212.5h2M124 212.5h2M131 212.5h2M126 213.5h2M129 213.5h2M128 214.5h1" fill="none" stroke="#000" stroke-width="1" shape-rendering="crispEdges"/>
<rect x="80.1" y="66.1" width="654.1" height="217.8" fill="none" stroke="#000" stroke-width="2"/>
<g stroke="#000" stroke-width="1" shape-rendering="crispEdges">
<line x1="75.6" y1="260.5" x2="80.1" y2="260.5"/>
<line x1="75.6" y1="223.5" x2="80.1" y2="223.5"/>
<line x1="75.6" y1="187.5" x2="80.1" y2="187.5"/>
<line x1="75.6" y1="151.5" x2="80.1" y2="151.5"/>
<line x1="75.6" y1="114.5" x2="80.1" y2="114.5"/>
<line x1="75.6" y1="78.5" x2="80.1" y2="78.5"/>
<line x1="96.5" y1="283.9" x2="96.5" y2="288.1"/>
<line x1="191.5" y1="283.9" x2="191.5" y2="288.1"/>
<line x1="271.5" y1="283.9" x2="271.5" y2="288.1"/>
<line x1="351.5" y1="283.9" x2="351.5" y2="288.1"/>
<line x1="431.5" y1="283.9" x2="431.5" y2="288.1"/>
<line x1="511.5" y1="283.9" x2="511.5" y2="288.1"/>
<line x1="590.5" y1="283.9" x2="590.5" y2="288.1"/>
<line x1="670.5" y1="283.9" x2="670.5" y2="288.1"/>
</g>
<text x="73.5" y="265.0" font-size="12.3" text-anchor="end">12</text>
<text x="73.5" y="228.0" font-size="12.3" text-anchor="end">15</text>
<text x="73.5" y="192.0" font-size="12.3" text-anchor="end">18</text>
<text x="73.5" y="156.0" font-size="12.3" text-anchor="end">21</text>
<text x="73.5" y="119.0" font-size="12.3" text-anchor="end">24</text>
<text x="73.5" y="83.0" font-size="12.3" text-anchor="end">27</text>
<text x="96.4" y="298.8" font-size="12.3" text-anchor="middle" textLength="31.2" lengthAdjust="spacingAndGlyphs">26MAY</text>
<text x="191.4" y="298.8" font-size="12.3" text-anchor="middle" textLength="24.5" lengthAdjust="spacingAndGlyphs">1JUN</text>
<text x="271.4" y="298.8" font-size="12.3" text-anchor="middle" textLength="24.5" lengthAdjust="spacingAndGlyphs">6JUN</text>
<text x="351.4" y="298.8" font-size="12.3" text-anchor="middle" textLength="29.4" lengthAdjust="spacingAndGlyphs">11JUN</text>
<text x="431.4" y="298.8" font-size="12.3" text-anchor="middle" textLength="29.2" lengthAdjust="spacingAndGlyphs">16JUN</text>
<text x="511.4" y="298.8" font-size="12.3" text-anchor="middle" textLength="30.9" lengthAdjust="spacingAndGlyphs">21JUN</text>
<text x="590.4" y="298.8" font-size="12.3" text-anchor="middle" textLength="30.9" lengthAdjust="spacingAndGlyphs">26JUN</text>
<text x="670.4" y="298.8" font-size="12.3" text-anchor="middle" textLength="21.9" lengthAdjust="spacingAndGlyphs">1JUL</text>
<text x="96.0" y="309.8" font-size="12.3" text-anchor="middle" textLength="24.3" lengthAdjust="spacingAndGlyphs">2010</text>
<g fill="#d3d3d7" shape-rendering="crispEdges">
<rect x="92" y="392.2" width="8" height="65.5"/>
<rect x="89" y="406.0" width="14" height="20.4"/>
<rect x="108" y="375.2" width="8" height="82.5"/>
<rect x="105" y="390.0" width="14" height="28.4"/>
<rect x="124" y="377.2" width="8" height="52.6"/>
<rect x="121" y="388.0" width="14" height="15.3"/>
<rect x="140" y="368.2" width="8" height="106.6"/>
<rect x="137" y="381.0" width="14" height="30.9"/>
<rect x="156" y="375.2" width="8" height="68.3"/>
<rect x="153" y="383.0" width="14" height="28.9"/>
<rect x="172" y="369.2" width="8" height="61.2"/>
<rect x="169" y="381.0" width="14" height="15.3"/>
<rect x="188" y="388.2" width="8" height="125.6"/>
<rect x="185" y="396.0" width="14" height="18.3"/>
<rect x="204" y="372.2" width="8" height="27.1"/>
<rect x="201" y="380.0" width="14" height="8.6"/>
<rect x="220" y="374.2" width="8" height="35.5"/>
<rect x="217" y="382.0" width="14" height="8.2"/>
<rect x="236" y="372.2" width="8" height="46.6"/>
<rect x="233" y="378.0" width="14" height="15.9"/>
<rect x="252" y="371.2" width="7" height="38.5"/>
<rect x="249" y="380.0" width="13" height="12.2"/>
<rect x="268" y="377.2" width="7" height="44.2"/>
<rect x="265" y="386.0" width="13" height="13.9"/>
<rect x="284" y="387.2" width="7" height="85.4"/>
<rect x="281" y="397.0" width="13" height="4.0"/>
<rect x="300" y="368.2" width="7" height="47.5"/>
<rect x="297" y="381.0" width="13" height="16.3"/>
<rect x="316" y="357.1" width="7" height="52.6"/>
<rect x="313" y="368.0" width="13" height="15.2"/>
<rect x="332" y="369.2" width="7" height="49.6"/>
<rect x="329" y="376.0" width="13" height="15.2"/>
<rect x="348" y="355.1" width="7" height="52.8"/>
<rect x="345" y="367.0" width="13" height="16.2"/>
<rect x="364" y="365.1" width="7" height="57.7"/>
<rect x="361" y="374.0" width="13" height="10.6"/>
<rect x="380" y="371.2" width="7" height="54.6"/>
<rect x="377" y="381.0" width="13" height="17.3"/>
<rect x="396" y="375.2" width="7" height="60.2"/>
<rect x="393" y="386.0" width="13" height="14.0"/>
<rect x="412" y="366.1" width="7" height="50.6"/>
<rect x="409" y="372.0" width="13" height="14.6"/>
<rect x="428" y="378.2" width="7" height="71.8"/>
<rect x="425" y="387.0" width="13" height="15.7"/>
<rect x="444" y="365.1" width="7" height="58.7"/>
<rect x="441" y="378.0" width="13" height="17.3"/>
<rect x="460" y="356.1" width="7" height="55.8"/>
<rect x="457" y="366.0" width="13" height="17.2"/>
<rect x="475" y="370.2" width="8" height="69.5"/>
<rect x="472" y="383.0" width="14" height="15.3"/>
<rect x="491" y="367.1" width="8" height="117.1"/>
<rect x="488" y="379.0" width="14" height="16.9"/>
<rect x="507" y="350.1" width="8" height="100.4"/>
<rect x="504" y="368.0" width="14" height="25.9"/>
<rect x="523" y="359.7" width="8" height="68.9"/>
<rect x="520" y="370.0" width="14" height="17.8"/>
<rect x="539" y="359.7" width="8" height="118.7"/>
<rect x="536" y="374.0" width="14" height="21.3"/>
<rect x="555" y="367.6" width="8" height="110.0"/>
<rect x="552" y="385.0" width="14" height="22.2"/>
<rect x="571" y="357.0" width="8" height="57.5"/>
<rect x="568" y="370.0" width="14" height="16.6"/>
<rect x="587" y="361.0" width="8" height="46.7"/>
<rect x="584" y="374.0" width="14" height="12.0"/>
<rect x="603" y="353.9" width="8" height="77.0"/>
<rect x="600" y="370.0" width="14" height="19.2"/>
<rect x="619" y="367.1" width="8" height="79.6"/>
<rect x="616" y="376.0" width="14" height="16.6"/>
<rect x="635" y="359.7" width="8" height="75.2"/>
<rect x="632" y="375.0" width="14" height="16.3"/>
<rect x="651" y="361.0" width="7" height="75.7"/>
<rect x="648" y="377.0" width="13" height="20.1"/>
<rect x="667" y="354.4" width="7" height="79.7"/>
<rect x="664" y="372.0" width="13" height="25.1"/>
<rect x="683" y="351.7" width="7" height="68.1"/>
<rect x="680" y="373.0" width="13" height="25.7"/>
<rect x="699" y="363.6" width="7" height="85.8"/>
<rect x="696" y="380.0" width="13" height="17.9"/>
<rect x="715" y="359.7" width="7" height="72.0"/>
<rect x="712" y="378.0" width="13" height="18.6"/>
</g>
<g fill="#48ee48" shape-rendering="crispEdges">
<rect x="89" y="406" width="14" height="4"/>
<rect x="105" y="390" width="14" height="4"/>
<rect x="121" y="388" width="14" height="4"/>
<rect x="137" y="381" width="14" height="4"/>
<rect x="153" y="383" width="14" height="4"/>
<rect x="169" y="381" width="14" height="4"/>
<rect x="185" y="396" width="14" height="4"/>
<rect x="201" y="380" width="14" height="4"/>
<rect x="217" y="382" width="14" height="4"/>
<rect x="233" y="378" width="14" height="4"/>
<rect x="249" y="380" width="13" height="4"/>
<rect x="265" y="386" width="13" height="4"/>
<rect x="281" y="397" width="13" height="4"/>
<rect x="297" y="381" width="13" height="4"/>
<rect x="313" y="368" width="13" height="4"/>
<rect x="329" y="376" width="13" height="4"/>
<rect x="345" y="367" width="13" height="4"/>
<rect x="361" y="374" width="13" height="4"/>
<rect x="377" y="381" width="13" height="4"/>
<rect x="393" y="386" width="13" height="4"/>
<rect x="409" y="372" width="13" height="4"/>
<rect x="425" y="387" width="13" height="4"/>
<rect x="441" y="378" width="13" height="4"/>
<rect x="457" y="366" width="13" height="4"/>
<rect x="472" y="383" width="14" height="4"/>
<rect x="488" y="379" width="14" height="4"/>
<rect x="504" y="368" width="14" height="4"/>
<rect x="520" y="370" width="14" height="4"/>
<rect x="536" y="374" width="14" height="4"/>
<rect x="552" y="385" width="14" height="4"/>
<rect x="568" y="370" width="14" height="4"/>
<rect x="584" y="374" width="14" height="4"/>
<rect x="600" y="370" width="14" height="4"/>
<rect x="616" y="376" width="14" height="4"/>
<rect x="632" y="375" width="14" height="4"/>
<rect x="648" y="377" width="13" height="4"/>
<rect x="664" y="372" width="13" height="4"/>
<rect x="680" y="373" width="13" height="4"/>
<rect x="696" y="380" width="13" height="4"/>
<rect x="712" y="378" width="13" height="4"/>
</g>
<g stroke="#686868" stroke-width="1" stroke-dasharray="2 4.56" fill="none" shape-rendering="crispEdges">
<line x1="83.1" y1="515.5" x2="734.2" y2="515.5"/>
<line x1="83.1" y1="483.5" x2="734.2" y2="483.5"/>
<line x1="83.1" y1="452.5" x2="734.2" y2="452.5"/>
<line x1="83.1" y1="421.5" x2="734.2" y2="421.5"/>
<line x1="83.1" y1="390.5" x2="734.2" y2="390.5"/>
<line x1="83.1" y1="359.5" x2="734.2" y2="359.5"/>
<line x1="96.5" y1="331.0" x2="96.5" y2="545.9"/>
<line x1="191.5" y1="331.0" x2="191.5" y2="545.9"/>
<line x1="271.5" y1="331.0" x2="271.5" y2="545.9"/>
<line x1="351.5" y1="331.0" x2="351.5" y2="545.9"/>
<line x1="431.5" y1="331.0" x2="431.5" y2="545.9"/>
<line x1="511.5" y1="331.0" x2="511.5" y2="545.9"/>
<line x1="590.5" y1="331.0" x2="590.5" y2="545.9"/>
<line x1="670.5" y1="331.0" x2="670.5" y2="545.9"/>
</g>
<path d="M463 354.5h1M415 355.5h1M461 355.5h2M464 355.5h1M414 356.5h1M416 356.5h1M460 356.5h1M465 356.5h1M574 356.5h9M112 357.5h21M413 357.5h1M417 357.5h1M458 357.5h2M466 357.5h1M510 357.5h4M573 357.5h1M583 357.5h25M669 357.5h3M111 358.5h1M133 358.5h8M351 358.5h18M412 358.5h1M418 358.5h1M457 358.5h1M467 358.5h1M508 358.5h2M514 358.5h6M572 358.5h1M608 358.5h3M667 358.5h2M672 358.5h3M110 359.5h1M141 359.5h5M349 359.5h2M369 359.5h3M411 359.5h1M419 359.5h1M456 359.5h1M468 359.5h1M505 359.5h3M520 359.5h5M571 359.5h1M611 359.5h4M664 359.5h3M675 359.5h4M110 360.5h1M146 360.5h2M319 360.5h2M348 360.5h1M372 360.5h2M410 360.5h1M420 360.5h1M454 360.5h2M469 360.5h1M502 360.5h3M525 360.5h4M570 360.5h1M615 360.5h3M661 360.5h3M679 360.5h3M109 361.5h1M148 361.5h2M174 361.5h2M317 361.5h2M321 361.5h2M346 361.5h2M374 361.5h3M409 361.5h1M421 361.5h1M453 361.5h1M470 361.5h1M500 361.5h2M529 361.5h2M569 361.5h1M618 361.5h3M631 361.5h12M659 361.5h2M682 361.5h3M108 362.5h1M150 362.5h2M171 362.5h3M176 362.5h1M315 362.5h2M323 362.5h2M344 362.5h2M377 362.5h3M408 362.5h1M422 362.5h2M451 362.5h2M471 362.5h1M497 362.5h3M531 362.5h2M568 362.5h1M621 362.5h10M643 362.5h8M656 362.5h3M685 362.5h19M107 363.5h1M152 363.5h2M168 363.5h3M177 363.5h1M236 363.5h5M313 363.5h2M325 363.5h2M343 363.5h1M380 363.5h2M407 363.5h1M424 363.5h1M450 363.5h1M472 363.5h1M494 363.5h3M533 363.5h2M567 363.5h1M651 363.5h5M704 363.5h2M107 364.5h1M154 364.5h2M164 364.5h4M178 364.5h1M228 364.5h8M241 364.5h3M311 364.5h2M327 364.5h2M341 364.5h2M382 364.5h3M406 364.5h1M425 364.5h1M448 364.5h2M473 364.5h1M492 364.5h2M535 364.5h2M566 364.5h1M706 364.5h2M106 365.5h1M156 365.5h2M161 365.5h3M179 365.5h1M221 365.5h7M244 365.5h2M309 365.5h2M329 365.5h2M340 365.5h1M385 365.5h2M405 365.5h1M426 365.5h1M446 365.5h2M474 365.5h1M490 365.5h2M537 365.5h2M566 365.5h1M708 365.5h3M105 366.5h1M158 366.5h3M179 366.5h1M216 366.5h5M246 366.5h3M307 366.5h2M331 366.5h2M338 366.5h2M387 366.5h2M404 366.5h1M427 366.5h1M443 366.5h3M475 366.5h1M488 366.5h2M539 366.5h2M565 366.5h1M711 366.5h2M104 367.5h1M180 367.5h1M210 367.5h6M249 367.5h3M305 367.5h2M333 367.5h2M336 367.5h2M389 367.5h3M403 367.5h1M428 367.5h1M440 367.5h3M476 367.5h1M485 367.5h3M541 367.5h2M564 367.5h1M713 367.5h2M104 368.5h1M181 368.5h1M207 368.5h3M252 368.5h2M303 368.5h2M335 368.5h1M392 368.5h2M402 368.5h1M429 368.5h1M436 368.5h4M477 368.5h1M483 368.5h2M543 368.5h2M563 368.5h1M715 368.5h2M103 369.5h1M182 369.5h1M205 369.5h2M254 369.5h18M302 369.5h1M394 369.5h2M401 369.5h1M430 369.5h1M433 369.5h3M478 369.5h1M481 369.5h2M545 369.5h3M562 369.5h1M717 369.5h2M102 370.5h1M183 370.5h1M204 370.5h1M272 370.5h1M301 370.5h1M396 370.5h2M400 370.5h1M431 370.5h2M479 370.5h2M548 370.5h3M561 370.5h1M101 371.5h1M184 371.5h1M202 371.5h2M273 371.5h2M300 371.5h1M398 371.5h2M551 371.5h3M560 371.5h1M101 372.5h1M185 372.5h1M201 372.5h1M275 372.5h1M298 372.5h2M554 372.5h3M559 372.5h1M100 373.5h1M186 373.5h1M200 373.5h1M276 373.5h1M297 373.5h1M557 373.5h2M99 374.5h1M187 374.5h1M198 374.5h2M277 374.5h1M296 374.5h1M98 375.5h1M187 375.5h1M197 375.5h1M278 375.5h2M295 375.5h1M98 376.5h1M188 376.5h1M195 376.5h2M280 376.5h1M294 376.5h1M97 377.5h1M189 377.5h1M194 377.5h1M281 377.5h1M293 377.5h1M96 378.5h1M190 378.5h1M192 378.5h2M282 378.5h1M292 378.5h1M191 379.5h1M283 379.5h1M290 379.5h2M284 380.5h2M289 380.5h1M286 381.5h1M288 381.5h1M287 382.5h1" fill="none" stroke="#0000ff" stroke-width="1" shape-rendering="crispEdges"/>
<path d="M128 417.5h3M127 418.5h1M131 418.5h4M127 419.5h1M135 419.5h4M126 420.5h1M139 420.5h4M125 421.5h1M143 421.5h2M124 422.5h1M145 422.5h1M124 423.5h1M145 423.5h1M123 424.5h1M146 424.5h1M122 425.5h1M146 425.5h1M121 426.5h1M147 426.5h1M121 427.5h1M148 427.5h1M120 428.5h1M148 428.5h1M463 428.5h1M119 429.5h1M149 429.5h1M462 429.5h1M464 429.5h1M119 430.5h1M149 430.5h1M461 430.5h1M464 430.5h1M118 431.5h1M150 431.5h1M460 431.5h1M465 431.5h1M117 432.5h1M151 432.5h1M459 432.5h1M466 432.5h1M116 433.5h1M151 433.5h1M458 433.5h1M466 433.5h1M511 433.5h1M116 434.5h1M152 434.5h1M457 434.5h1M467 434.5h1M510 434.5h1M512 434.5h2M115 435.5h1M152 435.5h1M456 435.5h1M467 435.5h1M508 435.5h2M514 435.5h2M114 436.5h1M153 436.5h1M351 436.5h2M454 436.5h2M468 436.5h1M507 436.5h1M516 436.5h2M113 437.5h1M154 437.5h1M349 437.5h2M353 437.5h2M453 437.5h1M469 437.5h1M506 437.5h1M518 437.5h2M113 438.5h1M154 438.5h1M348 438.5h1M355 438.5h2M415 438.5h1M452 438.5h1M469 438.5h1M505 438.5h1M520 438.5h1M96 439.5h17M155 439.5h1M346 439.5h2M357 439.5h3M414 439.5h1M416 439.5h1M451 439.5h1M470 439.5h1M504 439.5h1M521 439.5h2M155 440.5h1M345 440.5h1M360 440.5h2M412 440.5h2M417 440.5h1M450 440.5h1M471 440.5h1M502 440.5h2M523 440.5h2M156 441.5h1M344 441.5h1M362 441.5h2M411 441.5h1M418 441.5h1M449 441.5h1M471 441.5h1M501 441.5h1M525 441.5h2M157 442.5h1M342 442.5h2M364 442.5h2M410 442.5h1M419 442.5h1M448 442.5h1M472 442.5h1M500 442.5h1M527 442.5h1M157 443.5h1M207 443.5h1M341 443.5h1M366 443.5h3M408 443.5h2M420 443.5h1M447 443.5h1M473 443.5h1M499 443.5h1M528 443.5h1M158 444.5h1M206 444.5h1M208 444.5h1M339 444.5h2M369 444.5h3M407 444.5h1M421 444.5h1M445 444.5h2M473 444.5h1M497 444.5h2M529 444.5h1M158 445.5h1M205 445.5h1M209 445.5h2M338 445.5h1M372 445.5h2M406 445.5h1M422 445.5h2M444 445.5h1M474 445.5h1M496 445.5h1M530 445.5h1M590 445.5h2M159 446.5h9M204 446.5h1M211 446.5h1M336 446.5h2M374 446.5h3M404 446.5h2M424 446.5h1M442 446.5h2M475 446.5h1M494 446.5h2M531 446.5h1M589 446.5h1M592 446.5h2M168 447.5h8M202 447.5h2M212 447.5h1M333 447.5h3M377 447.5h3M403 447.5h1M425 447.5h1M440 447.5h2M475 447.5h1M492 447.5h2M532 447.5h1M589 447.5h1M594 447.5h2M176 448.5h2M201 448.5h1M213 448.5h1M328 448.5h5M380 448.5h2M402 448.5h1M426 448.5h1M439 448.5h1M476 448.5h1M490 448.5h2M533 448.5h1M588 448.5h1M596 448.5h2M178 449.5h2M200 449.5h1M214 449.5h2M322 449.5h6M382 449.5h10M400 449.5h2M427 449.5h1M437 449.5h2M476 449.5h1M488 449.5h2M534 449.5h1M587 449.5h1M598 449.5h2M699 449.5h4M180 450.5h1M199 450.5h1M216 450.5h1M319 450.5h3M392 450.5h8M428 450.5h1M436 450.5h1M477 450.5h1M485 450.5h3M535 450.5h1M587 450.5h1M600 450.5h2M691 450.5h8M703 450.5h1M181 451.5h2M198 451.5h1M217 451.5h1M318 451.5h1M429 451.5h1M434 451.5h2M478 451.5h1M483 451.5h2M536 451.5h1M586 451.5h1M602 451.5h2M685 451.5h6M703 451.5h1M183 452.5h1M197 452.5h1M218 452.5h1M318 452.5h1M430 452.5h1M432 452.5h2M478 452.5h1M481 452.5h2M537 452.5h1M557 452.5h2M585 452.5h1M604 452.5h2M683 452.5h2M704 452.5h1M184 453.5h2M196 453.5h1M219 453.5h1M317 453.5h1M431 453.5h1M479 453.5h2M538 453.5h1M555 453.5h2M559 453.5h1M585 453.5h1M606 453.5h2M680 453.5h3M705 453.5h1M186 454.5h2M194 454.5h2M220 454.5h2M317 454.5h1M539 454.5h1M552 454.5h3M560 454.5h1M584 454.5h1M608 454.5h3M677 454.5h3M706 454.5h1M188 455.5h1M193 455.5h1M222 455.5h1M316 455.5h1M540 455.5h1M550 455.5h2M561 455.5h1M583 455.5h1M611 455.5h2M675 455.5h2M706 455.5h1M189 456.5h2M192 456.5h1M223 456.5h2M315 456.5h1M541 456.5h1M547 456.5h3M562 456.5h1M583 456.5h1M613 456.5h3M672 456.5h3M707 456.5h1M191 457.5h1M225 457.5h3M315 457.5h1M542 457.5h1M545 457.5h2M563 457.5h1M582 457.5h1M616 457.5h3M670 457.5h2M708 457.5h1M228 458.5h4M314 458.5h1M543 458.5h2M564 458.5h1M581 458.5h1M619 458.5h2M668 458.5h2M709 458.5h1M232 459.5h3M313 459.5h1M565 459.5h1M581 459.5h1M621 459.5h4M666 459.5h2M709 459.5h1M235 460.5h3M271 460.5h1M313 460.5h1M566 460.5h1M580 460.5h1M625 460.5h6M664 460.5h2M710 460.5h1M238 461.5h2M270 461.5h1M272 461.5h1M312 461.5h1M566 461.5h1M579 461.5h1M631 461.5h5M662 461.5h2M711 461.5h1M240 462.5h1M269 462.5h1M273 462.5h1M312 462.5h1M567 462.5h1M579 462.5h1M636 462.5h5M660 462.5h2M711 462.5h1M241 463.5h1M268 463.5h1M274 463.5h1M311 463.5h1M568 463.5h1M578 463.5h1M641 463.5h6M658 463.5h2M712 463.5h1M242 464.5h1M267 464.5h1M275 464.5h1M310 464.5h1M569 464.5h1M577 464.5h1M647 464.5h5M656 464.5h2M713 464.5h1M243 465.5h1M266 465.5h1M276 465.5h1M310 465.5h1M570 465.5h1M577 465.5h1M652 465.5h4M714 465.5h1M244 466.5h1M265 466.5h1M277 466.5h1M309 466.5h1M571 466.5h1M576 466.5h1M714 466.5h1M245 467.5h1M264 467.5h1M278 467.5h1M309 467.5h1M572 467.5h1M575 467.5h1M715 467.5h1M246 468.5h2M263 468.5h1M279 468.5h1M308 468.5h1M573 468.5h1M575 468.5h1M716 468.5h1M248 469.5h1M262 469.5h1M280 469.5h1M307 469.5h1M574 469.5h1M717 469.5h1M249 470.5h1M261 470.5h1M281 470.5h1M307 470.5h1M717 470.5h1M250 471.5h1M260 471.5h1M282 471.5h1M306 471.5h1M718 471.5h1M251 472.5h1M259 472.5h1M283 472.5h1M305 472.5h1M252 473.5h1M258 473.5h1M284 473.5h1M305 473.5h1M253 474.5h1M257 474.5h1M285 474.5h1M304 474.5h1M254 475.5h1M256 475.5h1M286 475.5h1M304 475.5h1M255 476.5h1M287 476.5h17" fill="none" stroke="#0000ff" stroke-width="1" shape-rendering="crispEdges"/>
<path d="M127 381.5h3M123 382.5h4M130 382.5h3M119 383.5h4M133 383.5h2M115 384.5h4M135 384.5h3M112 385.5h3M138 385.5h3M111 386.5h1M141 386.5h2M463 386.5h1M110 387.5h1M143 387.5h3M461 387.5h2M464 387.5h1M109 388.5h1M146 388.5h2M415 388.5h1M460 388.5h1M465 388.5h1M108 389.5h1M148 389.5h2M174 389.5h2M414 389.5h1M416 389.5h1M458 389.5h2M466 389.5h1M510 389.5h6M107 390.5h1M150 390.5h2M171 390.5h3M176 390.5h1M351 390.5h9M413 390.5h1M417 390.5h1M456 390.5h2M467 390.5h1M508 390.5h2M516 390.5h8M574 390.5h5M106 391.5h1M152 391.5h2M168 391.5h3M177 391.5h1M349 391.5h2M360 391.5h9M412 391.5h1M418 391.5h1M455 391.5h1M467 391.5h1M506 391.5h2M524 391.5h4M573 391.5h1M579 391.5h8M105 392.5h1M154 392.5h2M164 392.5h4M177 392.5h1M348 392.5h1M369 392.5h3M411 392.5h1M419 392.5h1M453 392.5h2M468 392.5h1M504 392.5h2M528 392.5h2M572 392.5h1M587 392.5h21M104 393.5h1M156 393.5h2M161 393.5h3M178 393.5h1M319 393.5h2M346 393.5h2M372 393.5h2M410 393.5h1M420 393.5h1M452 393.5h1M469 393.5h1M501 393.5h3M530 393.5h2M571 393.5h1M608 393.5h3M103 394.5h1M158 394.5h3M179 394.5h1M317 394.5h2M321 394.5h2M345 394.5h1M374 394.5h3M409 394.5h1M421 394.5h1M450 394.5h2M470 394.5h1M499 394.5h2M532 394.5h2M570 394.5h1M611 394.5h2M669 394.5h4M102 395.5h1M180 395.5h1M316 395.5h1M323 395.5h2M344 395.5h1M377 395.5h3M408 395.5h1M422 395.5h2M448 395.5h2M471 395.5h1M497 395.5h2M534 395.5h2M569 395.5h1M613 395.5h3M667 395.5h2M673 395.5h4M101 396.5h1M180 396.5h1M314 396.5h2M325 396.5h2M342 396.5h2M380 396.5h2M407 396.5h1M424 396.5h1M446 396.5h2M472 396.5h1M495 396.5h2M536 396.5h1M568 396.5h1M616 396.5h3M665 396.5h2M677 396.5h4M100 397.5h1M181 397.5h1M313 397.5h1M327 397.5h2M341 397.5h1M382 397.5h3M407 397.5h1M425 397.5h1M444 397.5h2M473 397.5h1M493 397.5h2M537 397.5h2M567 397.5h1M619 397.5h2M631 397.5h10M663 397.5h2M681 397.5h4M99 398.5h1M182 398.5h1M232 398.5h10M312 398.5h1M329 398.5h2M339 398.5h2M385 398.5h2M406 398.5h1M426 398.5h1M442 398.5h2M474 398.5h1M491 398.5h2M539 398.5h2M566 398.5h1M621 398.5h10M641 398.5h4M660 398.5h3M685 398.5h10M98 399.5h1M183 399.5h1M207 399.5h25M242 399.5h6M310 399.5h2M331 399.5h2M338 399.5h1M387 399.5h2M405 399.5h1M427 399.5h1M440 399.5h2M475 399.5h1M489 399.5h2M541 399.5h2M565 399.5h1M645 399.5h4M658 399.5h2M695 399.5h9M97 400.5h1M183 400.5h1M205 400.5h2M248 400.5h5M309 400.5h1M333 400.5h2M336 400.5h2M389 400.5h2M404 400.5h1M428 400.5h1M437 400.5h3M475 400.5h1M487 400.5h2M543 400.5h2M564 400.5h1M649 400.5h4M656 400.5h2M704 400.5h2M96 401.5h1M184 401.5h1M204 401.5h1M253 401.5h7M307 401.5h2M335 401.5h1M391 401.5h2M403 401.5h1M429 401.5h1M435 401.5h2M476 401.5h1M485 401.5h2M545 401.5h2M563 401.5h1M653 401.5h3M706 401.5h2M185 402.5h1M202 402.5h2M260 402.5h8M306 402.5h1M393 402.5h2M402 402.5h1M430 402.5h1M433 402.5h2M477 402.5h1M483 402.5h2M547 402.5h3M562 402.5h1M708 402.5h3M186 403.5h1M201 403.5h1M268 403.5h4M304 403.5h2M395 403.5h2M401 403.5h1M431 403.5h2M478 403.5h1M481 403.5h2M550 403.5h2M561 403.5h1M711 403.5h2M186 404.5h1M200 404.5h1M272 404.5h1M303 404.5h1M397 404.5h2M400 404.5h1M479 404.5h2M552 404.5h3M560 404.5h1M713 404.5h2M187 405.5h1M198 405.5h2M273 405.5h2M302 405.5h1M399 405.5h1M555 405.5h2M559 405.5h1M715 405.5h2M188 406.5h1M197 406.5h1M275 406.5h1M300 406.5h2M557 406.5h2M717 406.5h2M189 407.5h1M195 407.5h2M276 407.5h1M299 407.5h1M189 408.5h1M194 408.5h1M277 408.5h1M298 408.5h1M190 409.5h1M192 409.5h2M278 409.5h2M296 409.5h2M191 410.5h1M280 410.5h1M295 410.5h1M281 411.5h1M294 411.5h1M282 412.5h1M292 412.5h2M283 413.5h1M291 413.5h1M284 414.5h2M290 414.5h1M286 415.5h1M288 415.5h2M287 416.5h1" fill="none" stroke="#f00030" stroke-width="1" shape-rendering="crispEdges"/>
<path d="M126 369.5h5M121 370.5h5M131 370.5h4M115 371.5h6M135 371.5h4M463 371.5h1M112 372.5h3M139 372.5h4M461 372.5h2M464 372.5h1M111 373.5h1M143 373.5h3M460 373.5h1M465 373.5h1M110 374.5h1M146 374.5h2M415 374.5h1M458 374.5h2M466 374.5h1M110 375.5h1M148 375.5h2M174 375.5h2M414 375.5h1M416 375.5h1M456 375.5h2M467 375.5h1M510 375.5h6M574 375.5h5M109 376.5h1M150 376.5h2M171 376.5h3M176 376.5h1M351 376.5h9M413 376.5h1M417 376.5h1M455 376.5h1M467 376.5h1M508 376.5h2M516 376.5h8M573 376.5h1M579 376.5h8M669 376.5h3M108 377.5h1M152 377.5h2M168 377.5h3M177 377.5h1M349 377.5h2M360 377.5h9M412 377.5h1M418 377.5h2M453 377.5h2M468 377.5h1M505 377.5h3M524 377.5h4M572 377.5h1M587 377.5h22M667 377.5h2M672 377.5h3M107 378.5h1M154 378.5h2M164 378.5h4M177 378.5h1M319 378.5h1M348 378.5h1M369 378.5h3M411 378.5h1M420 378.5h1M452 378.5h1M469 378.5h1M502 378.5h3M528 378.5h2M571 378.5h1M609 378.5h4M664 378.5h3M675 378.5h2M106 379.5h1M156 379.5h2M161 379.5h3M178 379.5h1M317 379.5h2M320 379.5h2M346 379.5h2M372 379.5h2M410 379.5h1M421 379.5h1M450 379.5h2M470 379.5h1M500 379.5h2M530 379.5h2M570 379.5h1M613 379.5h4M661 379.5h3M677 379.5h3M106 380.5h1M158 380.5h3M179 380.5h1M316 380.5h1M322 380.5h2M345 380.5h1M374 380.5h3M409 380.5h1M422 380.5h1M448 380.5h2M471 380.5h1M497 380.5h3M532 380.5h2M569 380.5h1M617 380.5h4M631 380.5h12M659 380.5h2M680 380.5h3M105 381.5h1M180 381.5h1M314 381.5h2M324 381.5h2M344 381.5h1M377 381.5h3M408 381.5h1M423 381.5h1M446 381.5h2M472 381.5h1M495 381.5h2M534 381.5h2M568 381.5h1M621 381.5h10M643 381.5h8M656 381.5h3M683 381.5h2M104 382.5h1M181 382.5h1M236 382.5h6M312 382.5h2M326 382.5h2M342 382.5h2M380 382.5h2M406 382.5h2M424 382.5h1M444 382.5h2M473 382.5h1M493 382.5h2M536 382.5h1M567 382.5h1M651 382.5h5M685 382.5h19M103 383.5h1M181 383.5h1M228 383.5h8M242 383.5h4M311 383.5h1M328 383.5h1M341 383.5h1M382 383.5h3M405 383.5h1M425 383.5h1M442 383.5h2M474 383.5h1M491 383.5h2M537 383.5h2M566 383.5h1M704 383.5h2M102 384.5h1M182 384.5h1M216 384.5h12M246 384.5h4M309 384.5h2M329 384.5h2M339 384.5h2M385 384.5h3M404 384.5h1M426 384.5h2M440 384.5h2M475 384.5h1M489 384.5h2M539 384.5h2M566 384.5h1M706 384.5h2M102 385.5h1M183 385.5h1M207 385.5h9M250 385.5h4M308 385.5h1M331 385.5h2M338 385.5h1M388 385.5h2M403 385.5h1M428 385.5h1M437 385.5h3M475 385.5h1M487 385.5h2M541 385.5h2M565 385.5h1M708 385.5h2M101 386.5h1M184 386.5h1M205 386.5h2M254 386.5h10M306 386.5h2M333 386.5h2M336 386.5h2M390 386.5h3M402 386.5h1M429 386.5h1M435 386.5h2M476 386.5h1M485 386.5h2M543 386.5h2M564 386.5h1M710 386.5h2M100 387.5h1M185 387.5h1M204 387.5h1M264 387.5h8M304 387.5h2M335 387.5h1M393 387.5h3M401 387.5h1M430 387.5h1M433 387.5h2M477 387.5h1M483 387.5h2M545 387.5h2M563 387.5h1M712 387.5h2M99 388.5h1M185 388.5h1M202 388.5h2M272 388.5h1M303 388.5h1M396 388.5h2M400 388.5h1M431 388.5h2M478 388.5h1M481 388.5h2M547 388.5h3M562 388.5h1M714 388.5h2M98 389.5h1M186 389.5h1M200 389.5h2M273 389.5h2M302 389.5h1M398 389.5h2M479 389.5h2M550 389.5h2M561 389.5h1M716 389.5h2M98 390.5h1M187 390.5h1M199 390.5h1M275 390.5h1M300 390.5h2M552 390.5h3M560 390.5h1M718 390.5h1M97 391.5h1M188 391.5h1M197 391.5h2M276 391.5h1M299 391.5h1M555 391.5h2M559 391.5h1M96 392.5h1M189 392.5h1M196 392.5h1M277 392.5h1M298 392.5h1M557 392.5h2M189 393.5h1M194 393.5h2M278 393.5h2M296 393.5h2M190 394.5h1M192 394.5h2M280 394.5h1M295 394.5h1M191 395.5h1M281 395.5h1M294 395.5h1M282 396.5h1M292 396.5h2M283 397.5h1M291 397.5h1M284 398.5h2M290 398.5h1M286 399.5h1M288 399.5h2M287 400.5h1" fill="none" stroke="#f00030" stroke-width="1" shape-rendering="crispEdges"/>
<path d="M463 370.5h1M121 371.5h10M461 371.5h2M464 371.5h1M112 372.5h9M131 372.5h6M460 372.5h1M465 372.5h1M111 373.5h1M137 373.5h5M415 373.5h1M458 373.5h2M466 373.5h1M110 374.5h1M142 374.5h4M414 374.5h1M416 374.5h1M456 374.5h2M467 374.5h1M510 374.5h6M574 374.5h5M110 375.5h1M146 375.5h2M351 375.5h9M413 375.5h1M417 375.5h1M455 375.5h1M467 375.5h1M508 375.5h2M516 375.5h8M573 375.5h1M579 375.5h8M669 375.5h3M109 376.5h1M148 376.5h3M349 376.5h2M360 376.5h9M412 376.5h1M418 376.5h2M453 376.5h2M468 376.5h1M505 376.5h3M524 376.5h4M572 376.5h1M587 376.5h22M667 376.5h2M672 376.5h3M108 377.5h1M151 377.5h2M173 377.5h3M319 377.5h2M348 377.5h1M369 377.5h3M411 377.5h1M420 377.5h1M452 377.5h1M469 377.5h1M502 377.5h3M528 377.5h2M571 377.5h1M609 377.5h4M664 377.5h3M675 377.5h4M107 378.5h1M153 378.5h3M168 378.5h5M176 378.5h1M317 378.5h2M321 378.5h2M346 378.5h2M372 378.5h2M410 378.5h1M421 378.5h1M450 378.5h2M470 378.5h1M500 378.5h2M530 378.5h2M570 378.5h1M613 378.5h4M661 378.5h3M679 378.5h3M106 379.5h1M156 379.5h2M162 379.5h6M177 379.5h1M316 379.5h1M323 379.5h2M344 379.5h2M374 379.5h3M409 379.5h1M422 379.5h1M448 379.5h2M471 379.5h1M497 379.5h3M532 379.5h2M569 379.5h1M617 379.5h4M631 379.5h12M659 379.5h2M682 379.5h3M106 380.5h1M158 380.5h4M178 380.5h1M314 380.5h2M325 380.5h2M343 380.5h1M377 380.5h3M408 380.5h1M423 380.5h1M446 380.5h2M472 380.5h1M495 380.5h2M534 380.5h2M568 380.5h1M621 380.5h10M643 380.5h8M656 380.5h3M685 380.5h18M105 381.5h1M179 381.5h1M237 381.5h5M312 381.5h2M327 381.5h2M341 381.5h2M380 381.5h2M406 381.5h2M424 381.5h1M444 381.5h2M473 381.5h1M493 381.5h2M536 381.5h1M567 381.5h1M651 381.5h5M703 381.5h2M104 382.5h1M179 382.5h1M232 382.5h5M242 382.5h4M311 382.5h1M329 382.5h2M340 382.5h1M382 382.5h3M405 382.5h1M425 382.5h1M442 382.5h2M474 382.5h1M491 382.5h2M537 382.5h2M566 382.5h1M705 382.5h2M103 383.5h1M180 383.5h1M226 383.5h6M246 383.5h4M309 383.5h2M331 383.5h2M338 383.5h2M385 383.5h3M404 383.5h1M426 383.5h2M440 383.5h2M475 383.5h1M489 383.5h2M539 383.5h2M565 383.5h1M707 383.5h2M102 384.5h1M181 384.5h1M207 384.5h19M250 384.5h4M308 384.5h1M333 384.5h2M336 384.5h2M388 384.5h2M403 384.5h1M428 384.5h1M437 384.5h3M475 384.5h1M487 384.5h2M541 384.5h2M564 384.5h1M709 384.5h2M102 385.5h1M182 385.5h1M205 385.5h2M254 385.5h10M306 385.5h2M335 385.5h1M390 385.5h3M402 385.5h1M429 385.5h1M435 385.5h2M476 385.5h1M485 385.5h2M543 385.5h2M563 385.5h1M711 385.5h1M101 386.5h1M183 386.5h1M204 386.5h1M264 386.5h8M304 386.5h2M393 386.5h3M401 386.5h1M430 386.5h1M433 386.5h2M477 386.5h1M483 386.5h2M545 386.5h3M562 386.5h1M712 386.5h2M100 387.5h1M184 387.5h1M202 387.5h2M272 387.5h1M303 387.5h1M396 387.5h2M400 387.5h1M431 387.5h2M478 387.5h1M481 387.5h2M548 387.5h3M561 387.5h1M714 387.5h2M99 388.5h1M185 388.5h1M201 388.5h1M273 388.5h2M302 388.5h1M398 388.5h2M479 388.5h2M551 388.5h3M560 388.5h1M716 388.5h2M98 389.5h1M186 389.5h1M200 389.5h1M275 389.5h1M300 389.5h2M554 389.5h3M559 389.5h1M718 389.5h1M98 390.5h1M187 390.5h1M198 390.5h2M276 390.5h1M299 390.5h1M557 390.5h2M97 391.5h1M187 391.5h1M197 391.5h1M277 391.5h1M298 391.5h1M96 392.5h1M188 392.5h1M195 392.5h2M278 392.5h2M296 392.5h2M189 393.5h1M194 393.5h1M280 393.5h1M295 393.5h1M190 394.5h1M192 394.5h2M281 394.5h1M294 394.5h1M191 395.5h1M282 395.5h1M292 395.5h2M283 396.5h1M291 396.5h1M284 397.5h2M290 397.5h1M286 398.5h1M288 398.5h2M287 399.5h1" fill="none" stroke="#000" stroke-width="1" shape-rendering="crispEdges"/>
<rect x="80.1" y="328.0" width="654.1" height="217.9" fill="none" stroke="#000" stroke-width="2"/>
<g stroke="#000" stroke-width="1" shape-rendering="crispEdges">
<line x1="75.6" y1="546.0" x2="80.1" y2="546.0"/>
<line x1="75.6" y1="515.5" x2="80.1" y2="515.5"/>
<line x1="75.6" y1="483.5" x2="80.1" y2="483.5"/>
<line x1="75.6" y1="452.5" x2="80.1" y2="452.5"/>
<line x1="75.6" y1="421.5" x2="80.1" y2="421.5"/>
<line x1="75.6" y1="390.5" x2="80.1" y2="390.5"/>
<line x1="75.6" y1="359.5" x2="80.1" y2="359.5"/>
<line x1="75.6" y1="328.0" x2="80.1" y2="328.0"/>
<line x1="96.5" y1="545.9" x2="96.5" y2="550.1"/>
<line x1="191.5" y1="545.9" x2="191.5" y2="550.1"/>
<line x1="271.5" y1="545.9" x2="271.5" y2="550.1"/>
<line x1="351.5" y1="545.9" x2="351.5" y2="550.1"/>
<line x1="431.5" y1="545.9" x2="431.5" y2="550.1"/>
<line x1="511.5" y1="545.9" x2="511.5" y2="550.1"/>
<line x1="590.5" y1="545.9" x2="590.5" y2="550.1"/>
<line x1="670.5" y1="545.9" x2="670.5" y2="550.1"/>
</g>
<text x="73.5" y="550.5" font-size="12.3" text-anchor="end">−5</text>
<text x="73.5" y="520.0" font-size="12.3" text-anchor="end">−4</text>
<text x="73.5" y="488.0" font-size="12.3" text-anchor="end">−3</text>
<text x="73.5" y="457.0" font-size="12.3" text-anchor="end">−2</text>
<text x="73.5" y="426.0" font-size="12.3" text-anchor="end">−1</text>
<text x="73.5" y="395.0" font-size="12.3" text-anchor="end">0</text>
<text x="73.5" y="364.0" font-size="12.3" text-anchor="end">1</text>
<text x="73.5" y="332.5" font-size="12.3" text-anchor="end">2</text>
<text x="96.4" y="560.8" font-size="12.3" text-anchor="middle" textLength="31.2" lengthAdjust="spacingAndGlyphs">26MAY</text>
<text x="191.4" y="560.8" font-size="12.3" text-anchor="middle" textLength="24.5" lengthAdjust="spacingAndGlyphs">1JUN</text>
<text x="271.4" y="560.8" font-size="12.3" text-anchor="middle" textLength="24.5" lengthAdjust="spacingAndGlyphs">6JUN</text>
<text x="351.4" y="560.8" font-size="12.3" text-anchor="middle" textLength="29.4" lengthAdjust="spacingAndGlyphs">11JUN</text>
<text x="431.4" y="560.8" font-size="12.3" text-anchor="middle" textLength="29.2" lengthAdjust="spacingAndGlyphs">16JUN</text>
<text x="511.4" y="560.8" font-size="12.3" text-anchor="middle" textLength="30.9" lengthAdjust="spacingAndGlyphs">21JUN</text>
<text x="590.4" y="560.8" font-size="12.3" text-anchor="middle" textLength="30.9" lengthAdjust="spacingAndGlyphs">26JUN</text>
<text x="670.4" y="560.8" font-size="12.3" text-anchor="middle" textLength="21.9" lengthAdjust="spacingAndGlyphs">1JUL</text>
<text x="96.0" y="571.8" font-size="12.3" text-anchor="middle" textLength="24.3" lengthAdjust="spacingAndGlyphs">2010</text>
<text x="80.3" y="23.8" font-size="13.3" textLength="29.9" lengthAdjust="spacingAndGlyphs">DERF</text>
<line x1="112.4" y1="26.6" x2="121.0" y2="13.5" stroke="#000" stroke-width="1.15"/>
<text x="122.0" y="23.8" font-size="13.3" textLength="23.3" lengthAdjust="spacingAndGlyphs">NCC</text>
<line x1="146.8" y1="26.6" x2="155.4" y2="13.5" stroke="#000" stroke-width="1.15"/>
<text x="156.0" y="23.8" font-size="13.3" textLength="23.7" lengthAdjust="spacingAndGlyphs">BCC</text>
<text x="187.3" y="23.8" font-size="13.3" textLength="46.9" lengthAdjust="spacingAndGlyphs">Monthly</text>
<text x="241.3" y="23.8" font-size="13.3" textLength="53.9" lengthAdjust="spacingAndGlyphs">Forecast</text>
<text x="80.3" y="41.5" font-size="11.9" textLength="49.2" lengthAdjust="spacingAndGlyphs">Member</text>
<text x="136.0" y="41.5" font-size="11.9" textLength="51.2" lengthAdjust="spacingAndGlyphs">Size=40</text>
<text x="80.3" y="59.7" font-size="11.9" textLength="31.7" lengthAdjust="spacingAndGlyphs">Mean</text>
<text x="119.2" y="59.7" font-size="11.9" textLength="29.5" lengthAdjust="spacingAndGlyphs">Surf.</text>
<text x="156.4" y="59.7" font-size="11.9" textLength="39.8" lengthAdjust="spacingAndGlyphs">Temp.:</text>
<text x="204.2" y="59.7" font-size="11.9" textLength="12.2" lengthAdjust="spacingAndGlyphs">°C</text>
<text x="534.3" y="23.8" font-size="13.3" textLength="20.0" lengthAdjust="spacingAndGlyphs">For</text>
<text x="560.9" y="23.8" font-size="13.3" textLength="31.6" lengthAdjust="spacingAndGlyphs">2010</text>
<line x1="593.2" y1="26.7" x2="601.3" y2="13.7" stroke="#000" stroke-width="1.15"/>
<text x="602.5" y="23.8" font-size="13.3" textLength="14.3" lengthAdjust="spacingAndGlyphs">05</text>
<line x1="618.1" y1="26.7" x2="625.8" y2="13.7" stroke="#000" stroke-width="1.15"/>
<text x="627.0" y="23.8" font-size="13.3" textLength="14.8" lengthAdjust="spacingAndGlyphs">26</text>
<line x1="643.2" y1="20.0" x2="652.4" y2="20.0" stroke="#000" stroke-width="1.15"/>
<text x="653.8" y="23.8" font-size="13.3" textLength="31.1" lengthAdjust="spacingAndGlyphs">2010</text>
<line x1="686.1" y1="26.7" x2="694.0" y2="13.7" stroke="#000" stroke-width="1.15"/>
<text x="695.2" y="23.8" font-size="13.3" textLength="14.4" lengthAdjust="spacingAndGlyphs">07</text>
<line x1="711.1" y1="26.7" x2="718.9" y2="13.7" stroke="#000" stroke-width="1.15"/>
<text x="719.9" y="23.8" font-size="13.3" textLength="14.5" lengthAdjust="spacingAndGlyphs">04</text>
<text x="492.0" y="41.5" font-size="11.9" textLength="26.5" lengthAdjust="spacingAndGlyphs">Fcst</text>
<text x="525.2" y="41.5" font-size="11.9" textLength="44.5" lengthAdjust="spacingAndGlyphs">Started</text>
<text x="578.5" y="41.5" font-size="11.9" textLength="31.5" lengthAdjust="spacingAndGlyphs">Refer</text>
<text x="618.5" y="41.5" font-size="11.9" textLength="27.0" lengthAdjust="spacingAndGlyphs">Date</text>
<text x="653.8" y="41.5" font-size="11.9" textLength="31.1" lengthAdjust="spacingAndGlyphs">2010</text>
<line x1="686.1" y1="44.6" x2="694.0" y2="32.4" stroke="#000" stroke-width="1.15"/>
<text x="695.2" y="41.5" font-size="11.9" textLength="14.4" lengthAdjust="spacingAndGlyphs">05</text>
<line x1="711.1" y1="44.6" x2="718.9" y2="32.4" stroke="#000" stroke-width="1.15"/>
<text x="719.9" y="41.5" font-size="11.9" textLength="14.5" lengthAdjust="spacingAndGlyphs">25</text>
<text x="519.2" y="59.7" font-size="11.9" textLength="26.5" lengthAdjust="spacingAndGlyphs">Fcst</text>
<text x="552.5" y="59.7" font-size="11.9" textLength="57.5" lengthAdjust="spacingAndGlyphs">Produced</text>
<text x="618.5" y="59.7" font-size="11.9" textLength="27.0" lengthAdjust="spacingAndGlyphs">Date</text>
<text x="653.8" y="59.7" font-size="11.9" textLength="31.1" lengthAdjust="spacingAndGlyphs">2010</text>
<line x1="686.1" y1="62.5" x2="694.0" y2="50.3" stroke="#000" stroke-width="1.15"/>
<text x="695.2" y="59.7" font-size="11.9" textLength="14.4" lengthAdjust="spacingAndGlyphs">05</text>
<line x1="711.1" y1="62.5" x2="718.9" y2="50.3" stroke="#000" stroke-width="1.15"/>
<text x="719.9" y="59.7" font-size="11.9" textLength="14.5" lengthAdjust="spacingAndGlyphs">26</text>
<text x="80.4" y="321.8" font-size="12" textLength="35.4" lengthAdjust="spacingAndGlyphs">Prec.:</text>
<text x="122.9" y="321.8" font-size="12" textLength="25.1" lengthAdjust="spacingAndGlyphs">log(</text>
<text x="148.3" y="321.8" font-size="12" textLength="23.7" lengthAdjust="spacingAndGlyphs">mm</text>
<line x1="173.6" y1="324.0" x2="180.9" y2="311.8" stroke="#000" stroke-width="1.15"/>
<text x="181.9" y="321.8" font-size="12" textLength="11.3" lengthAdjust="spacingAndGlyphs">d)</text>
<text x="73.5" y="594.8" font-size="13.7" textLength="27.8" lengthAdjust="spacingAndGlyphs">http:</text>
<line x1="102.8" y1="598.0" x2="109.8" y2="584.2" stroke="#000" stroke-width="1.15"/>
<line x1="111.2" y1="598.0" x2="118.2" y2="584.2" stroke="#000" stroke-width="1.15"/>
<text x="119.4" y="594.8" font-size="13.7" textLength="33.1" lengthAdjust="spacingAndGlyphs">cmdp</text>
<text x="153.7" y="594.8" font-size="13.7" textLength="3.2" lengthAdjust="spacingAndGlyphs">.</text>
<text x="158.9" y="594.8" font-size="13.7" textLength="22.6" lengthAdjust="spacingAndGlyphs">ncc</text>
<text x="180.5" y="594.8" font-size="13.7" textLength="3.2" lengthAdjust="spacingAndGlyphs">.</text>
<text x="183.6" y="594.8" font-size="13.7" textLength="26.7" lengthAdjust="spacingAndGlyphs">cma</text>
<text x="209.9" y="594.8" font-size="13.7" textLength="3.2" lengthAdjust="spacingAndGlyphs">.</text>
<text x="214.1" y="594.8" font-size="13.7" textLength="19.6" lengthAdjust="spacingAndGlyphs">gov</text>
<text x="235.2" y="594.8" font-size="13.7" textLength="3.2" lengthAdjust="spacingAndGlyphs">.</text>
<text x="239.6" y="594.8" font-size="13.7" textLength="14.8" lengthAdjust="spacingAndGlyphs">cn</text>
<text x="3.9" y="615.5" font-size="10.4" textLength="31.0" lengthAdjust="spacingAndGlyphs">GrADS:</text>
<text x="38.9" y="615.5" font-size="10.4" textLength="24.1" lengthAdjust="spacingAndGlyphs">COLA</text>
<line x1="62.7" y1="617.5" x2="67.4" y2="606.8" stroke="#000" stroke-width="1.15"/>
<text x="68.1" y="615.5" font-size="10.4" textLength="19.3" lengthAdjust="spacingAndGlyphs">IGES</text>
<g id="bcc">
<circle cx="662.1" cy="586.1" r="19.6" fill="#fdfdfd" stroke="#c4c4c6" stroke-width="1"/>
<circle cx="662.1" cy="586.1" r="17.3" fill="none" stroke="#a9a9ad" stroke-width="2.4" stroke-dasharray="0.9 1.25" opacity="0.55"/>
<circle cx="662.1" cy="586.1" r="15.2" fill="#fff" stroke="#e2e2e4" stroke-width="0.7"/>
<path d="M653.6 577.8 C650.6 579.2 650 582.6 652.4 585.2 C654 586.9 656.2 586.6 657.6 587.6 C660 589.6 663.6 589.4 666 587.6 C668.8 585.4 669.2 582.4 667 580.8 C665.6 579.6 664 579.4 662.6 579.3" fill="none" stroke="#1834e6" stroke-width="2.7" stroke-linecap="round" stroke-linejoin="round"/>
<path d="M661.6 583.5 C659 583.4 656.6 582 656.7 579.6 C656.8 576 659.4 573.6 662.4 573.4 C665 573.2 667.4 574.4 668.6 576.4 C671.4 576.2 674.4 578.2 674.9 581.4 C675.2 583.6 673.4 585 671.4 585.5" fill="none" stroke="#f01420" stroke-width="2.7" stroke-linecap="round" stroke-linejoin="round"/>
<text x="662.5" y="597.5" font-size="9.3" font-weight="bold" text-anchor="middle" textLength="19" lengthAdjust="spacingAndGlyphs" stroke="#20232c" stroke-width="0.25" style="font-family:'Liberation Serif',serif;fill:#20232c">BCC</text>
</g>
<g id="ncc" fill="none" stroke="#2a2cf2">
<g fill="#2a2cf2" stroke="none"><ellipse cx="711.19" cy="601.85" rx="2.50" ry="1.15" transform="rotate(-37.4 711.19 601.85)"/><ellipse cx="710.83" cy="599.87" rx="2.50" ry="1.15" transform="rotate(26.6 710.83 599.87)"/><ellipse cx="716.17" cy="600.97" rx="2.50" ry="1.15" transform="rotate(-46.5 716.17 600.97)"/><ellipse cx="715.24" cy="599.10" rx="2.50" ry="1.15" transform="rotate(17.5 715.24 599.10)"/><ellipse cx="720.75" cy="599.36" rx="2.50" ry="1.15" transform="rotate(-56.4 720.75 599.36)"/><ellipse cx="719.30" cy="597.70" rx="2.50" ry="1.15" transform="rotate(7.6 719.30 597.70)"/><ellipse cx="724.67" cy="597.09" rx="2.50" ry="1.15" transform="rotate(-67.7 724.67 597.09)"/><ellipse cx="722.78" cy="595.72" rx="2.50" ry="1.15" transform="rotate(-3.7 722.78 595.72)"/><ellipse cx="727.76" cy="594.29" rx="2.50" ry="1.15" transform="rotate(-81.1 727.76 594.29)"/><ellipse cx="725.52" cy="593.27" rx="2.50" ry="1.15" transform="rotate(-17.1 725.52 593.27)"/><ellipse cx="729.85" cy="591.08" rx="2.50" ry="1.15" transform="rotate(-97.1 729.85 591.08)"/><ellipse cx="727.37" cy="590.48" rx="2.50" ry="1.15" transform="rotate(-33.1 727.37 590.48)"/><ellipse cx="730.83" cy="587.64" rx="2.50" ry="1.15" transform="rotate(-115.3 730.83 587.64)"/><ellipse cx="728.24" cy="587.48" rx="2.50" ry="1.15" transform="rotate(-51.3 728.24 587.48)"/><ellipse cx="730.66" cy="584.13" rx="2.50" ry="1.15" transform="rotate(-134.3 730.66 584.13)"/><ellipse cx="728.08" cy="584.42" rx="2.50" ry="1.15" transform="rotate(-70.3 728.08 584.42)"/><ellipse cx="729.34" cy="580.74" rx="2.50" ry="1.15" transform="rotate(-151.9 729.34 580.74)"/><ellipse cx="726.92" cy="581.47" rx="2.50" ry="1.15" transform="rotate(-87.9 726.92 581.47)"/><ellipse cx="726.94" cy="577.64" rx="2.50" ry="1.15" transform="rotate(-167.1 726.94 577.64)"/><ellipse cx="724.79" cy="578.76" rx="2.50" ry="1.15" transform="rotate(-103.1 724.79 578.76)"/><ellipse cx="723.59" cy="574.97" rx="2.50" ry="1.15" transform="rotate(-179.9 723.59 574.97)"/><ellipse cx="721.82" cy="576.44" rx="2.50" ry="1.15" transform="rotate(-115.9 721.82 576.44)"/><ellipse cx="719.45" cy="572.89" rx="2.50" ry="1.15" transform="rotate(-190.7 719.45 572.89)"/><ellipse cx="718.15" cy="574.62" rx="2.50" ry="1.15" transform="rotate(-126.7 718.15 574.62)"/><ellipse cx="704.81" cy="601.85" rx="2.50" ry="1.15" transform="rotate(-142.6 704.81 601.85)"/><ellipse cx="705.17" cy="599.87" rx="2.50" ry="1.15" transform="rotate(-206.6 705.17 599.87)"/><ellipse cx="699.83" cy="600.97" rx="2.50" ry="1.15" transform="rotate(-133.5 699.83 600.97)"/><ellipse cx="700.76" cy="599.10" rx="2.50" ry="1.15" transform="rotate(-197.5 700.76 599.10)"/><ellipse cx="695.25" cy="599.36" rx="2.50" ry="1.15" transform="rotate(-123.6 695.25 599.36)"/><ellipse cx="696.70" cy="597.70" rx="2.50" ry="1.15" transform="rotate(-187.6 696.70 597.70)"/><ellipse cx="691.33" cy="597.09" rx="2.50" ry="1.15" transform="rotate(-112.3 691.33 597.09)"/><ellipse cx="693.22" cy="595.72" rx="2.50" ry="1.15" transform="rotate(-176.3 693.22 595.72)"/><ellipse cx="688.24" cy="594.29" rx="2.50" ry="1.15" transform="rotate(-98.9 688.24 594.29)"/><ellipse cx="690.48" cy="593.27" rx="2.50" ry="1.15" transform="rotate(-162.9 690.48 593.27)"/><ellipse cx="686.15" cy="591.08" rx="2.50" ry="1.15" transform="rotate(-82.9 686.15 591.08)"/><ellipse cx="688.63" cy="590.48" rx="2.50" ry="1.15" transform="rotate(-146.9 688.63 590.48)"/><ellipse cx="685.17" cy="587.64" rx="2.50" ry="1.15" transform="rotate(-64.7 685.17 587.64)"/><ellipse cx="687.76" cy="587.48" rx="2.50" ry="1.15" transform="rotate(-128.7 687.76 587.48)"/><ellipse cx="685.34" cy="584.13" rx="2.50" ry="1.15" transform="rotate(-45.7 685.34 584.13)"/><ellipse cx="687.92" cy="584.42" rx="2.50" ry="1.15" transform="rotate(-109.7 687.92 584.42)"/><ellipse cx="686.66" cy="580.74" rx="2.50" ry="1.15" transform="rotate(-28.1 686.66 580.74)"/><ellipse cx="689.08" cy="581.47" rx="2.50" ry="1.15" transform="rotate(-92.1 689.08 581.47)"/><ellipse cx="689.06" cy="577.64" rx="2.50" ry="1.15" transform="rotate(-12.9 689.06 577.64)"/><ellipse cx="691.21" cy="578.76" rx="2.50" ry="1.15" transform="rotate(-76.9 691.21 578.76)"/><ellipse cx="692.41" cy="574.97" rx="2.50" ry="1.15" transform="rotate(-0.1 692.41 574.97)"/><ellipse cx="694.18" cy="576.44" rx="2.50" ry="1.15" transform="rotate(-64.1 694.18 576.44)"/><ellipse cx="696.55" cy="572.89" rx="2.50" ry="1.15" transform="rotate(10.7 696.55 572.89)"/><ellipse cx="697.85" cy="574.62" rx="2.50" ry="1.15" transform="rotate(-53.3 697.85 574.62)"/></g>
<path d="M694.6 574.6 A21.6 14.6 0 0 0 708 601 A21.6 14.6 0 0 0 721.4 574.6" stroke-width="1.1"/>
<ellipse cx="708.2" cy="585.4" rx="18.6" ry="11.2" stroke-width="1.2"/>
<ellipse cx="708.2" cy="585.4" rx="15.4" ry="8.9" stroke-width="0.8" opacity="0.75"/>
<path d="M689.8 585.6 H706" stroke-width="0.7"/>
<path d="M694.5 581.6 l2.2 -1.8 l3.2 0.4 l2 -1.6 l3 0.6 l1.4 2 l-1 3.4 l-2 2.8 l-2.6 1.2 l-1.6 -2 l-3 -0.6 l-1.8 -2.2 z" stroke-width="1"/>
<path d="M706.2 579.4 L704.2 591.6 M706.2 579.4 L707.6 591.8" stroke-width="1.2"/>
<path d="M700 575.4 H716 M702.5 594.6 H714.5" stroke-width="0.9"/>
<path d="M701.4 598.4 H715.2" stroke-width="2"/>
<path d="M699 570.2 h4.6 v2.6 h-4.6 z M701.3 568.8 v5.6 M712.8 569.2 h4.6 v4.4 h-4.6 z M713.6 571.4 h3" stroke-width="0.8"/>
<text x="717.2" y="590.3" font-size="12.8" font-weight="bold" font-style="italic" text-anchor="middle" textLength="18.4" lengthAdjust="spacingAndGlyphs" stroke="#fff" stroke-width="1.6" paint-order="stroke" style="fill:#2226ee">NCC</text>
</g>

</svg></body></html>
